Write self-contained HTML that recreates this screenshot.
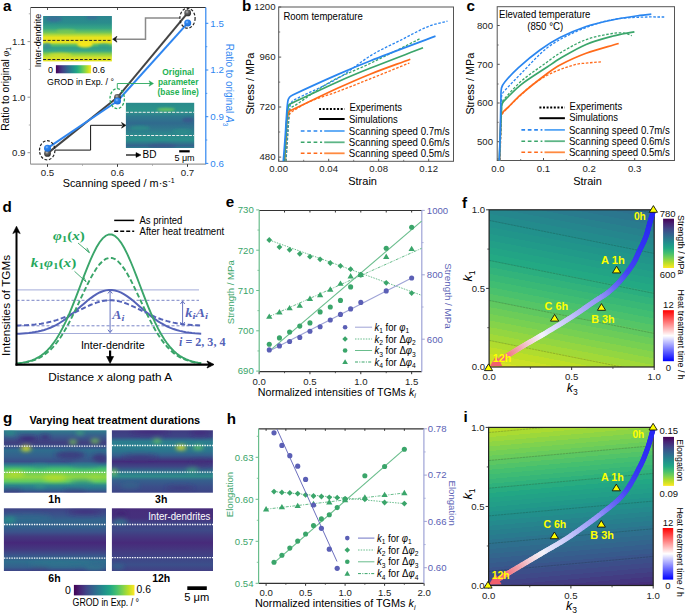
<!DOCTYPE html>
<html><head><meta charset="utf-8"><style>
html,body{margin:0;padding:0;background:#fff;width:685px;height:613px;overflow:hidden}
svg{display:block}
text{font-family:"Liberation Sans",sans-serif}
.serif{font-family:"Liberation Serif",serif}
</style></head><body>
<svg width="685" height="613" viewBox="0 0 685 613">
<defs><linearGradient id="ga1" x1="0" y1="0" x2="0" y2="1">
<stop offset="0" stop-color="#2c8590"/><stop offset="0.15" stop-color="#2a8c8c"/>
<stop offset="0.27" stop-color="#35a585"/><stop offset="0.36" stop-color="#6cc45c"/>
<stop offset="0.42" stop-color="#b5da35"/><stop offset="0.47" stop-color="#e8e41e"/>
<stop offset="0.58" stop-color="#e8e31e"/><stop offset="0.64" stop-color="#5cbf66"/>
<stop offset="0.7" stop-color="#34a086"/><stop offset="0.77" stop-color="#3aa884"/>
<stop offset="0.84" stop-color="#8ad048"/><stop offset="0.92" stop-color="#d8e22a"/><stop offset="1" stop-color="#e5e424"/></linearGradient><filter id="blur2" x="-50%" y="-50%" width="200%" height="200%"><feGaussianBlur stdDeviation="2"/></filter><filter id="blur1" x="-50%" y="-50%" width="200%" height="200%"><feGaussianBlur stdDeviation="1.2"/></filter><clipPath id="ca1"><rect x="43.1" y="16" width="68.8" height="45.4"/></clipPath><clipPath id="ca2"><rect x="125.9" y="102.8" width="68.3" height="45.2"/></clipPath><linearGradient id="gvir" x1="0" y1="0" x2="1" y2="0"><stop offset="0.0" stop-color="#440154"/><stop offset="0.1" stop-color="#482475"/><stop offset="0.2" stop-color="#414487"/><stop offset="0.3" stop-color="#355f8d"/><stop offset="0.4" stop-color="#2a788e"/><stop offset="0.5" stop-color="#21918c"/><stop offset="0.6" stop-color="#22a884"/><stop offset="0.7" stop-color="#44bf70"/><stop offset="0.8" stop-color="#7ad151"/><stop offset="0.9" stop-color="#bddf26"/><stop offset="1.0" stop-color="#fde725"/></linearGradient><linearGradient id="gvirv" x1="0" y1="1" x2="0" y2="0"><stop offset="0.0" stop-color="#440154"/><stop offset="0.1" stop-color="#482475"/><stop offset="0.2" stop-color="#414487"/><stop offset="0.3" stop-color="#355f8d"/><stop offset="0.4" stop-color="#2a788e"/><stop offset="0.5" stop-color="#21918c"/><stop offset="0.6" stop-color="#22a884"/><stop offset="0.7" stop-color="#44bf70"/><stop offset="0.8" stop-color="#7ad151"/><stop offset="0.9" stop-color="#bddf26"/><stop offset="1.0" stop-color="#fde725"/></linearGradient><linearGradient id="ga2" x1="0" y1="0" x2="0" y2="1">
<stop offset="0" stop-color="#2a8a8c"/><stop offset="0.18" stop-color="#2c948a"/>
<stop offset="0.3" stop-color="#2e7a8e"/><stop offset="0.45" stop-color="#306a8e"/><stop offset="0.6" stop-color="#2f7a8d"/>
<stop offset="0.72" stop-color="#2c8a8c"/><stop offset="0.82" stop-color="#2a908b"/><stop offset="0.95" stop-color="#35628d"/><stop offset="1" stop-color="#2e7e8e"/></linearGradient><radialGradient id="bb" cx="0.4" cy="0.35" r="0.6"><stop offset="0" stop-color="#9cc8ff"/><stop offset="0.35" stop-color="#2f86f0"/><stop offset="1" stop-color="#1d6fd8"/></radialGradient><radialGradient id="bg" cx="0.4" cy="0.35" r="0.6"><stop offset="0" stop-color="#bbb"/><stop offset="0.4" stop-color="#666"/><stop offset="1" stop-color="#333"/></radialGradient><linearGradient id="gvirv2" x1="0" y1="1" x2="0" y2="0"><stop offset="0.0" stop-color="#fde725"/><stop offset="0.1" stop-color="#bddf26"/><stop offset="0.2" stop-color="#7ad151"/><stop offset="0.3" stop-color="#44bf70"/><stop offset="0.4" stop-color="#22a884"/><stop offset="0.5" stop-color="#21918c"/><stop offset="0.6" stop-color="#2a788e"/><stop offset="0.7" stop-color="#355f8d"/><stop offset="0.8" stop-color="#414487"/><stop offset="0.9" stop-color="#482475"/><stop offset="1.0" stop-color="#440154"/></linearGradient><linearGradient id="gbwr" x1="0" y1="1" x2="0" y2="0"><stop offset="0" stop-color="#0000ff"/><stop offset="0.5" stop-color="#ffffff"/><stop offset="1" stop-color="#ff0000"/></linearGradient><linearGradient id="hf" gradientUnits="userSpaceOnUse" x1="523.77" y1="184.96" x2="489.10" y2="367.00"><stop offset="0.0000" stop-color="#306b8d"/><stop offset="0.0108" stop-color="#306b8d"/><stop offset="0.0108" stop-color="#2d718e"/><stop offset="0.0462" stop-color="#2d718e"/><stop offset="0.0462" stop-color="#2b768e"/><stop offset="0.0815" stop-color="#2b768e"/><stop offset="0.0815" stop-color="#297b8e"/><stop offset="0.1168" stop-color="#297b8e"/><stop offset="0.1168" stop-color="#27818d"/><stop offset="0.1522" stop-color="#27818d"/><stop offset="0.1522" stop-color="#25868d"/><stop offset="0.1875" stop-color="#25868d"/><stop offset="0.1875" stop-color="#238b8c"/><stop offset="0.2229" stop-color="#238b8c"/><stop offset="0.2229" stop-color="#21918c"/><stop offset="0.2582" stop-color="#21918c"/><stop offset="0.2582" stop-color="#21958a"/><stop offset="0.2935" stop-color="#21958a"/><stop offset="0.2935" stop-color="#219a89"/><stop offset="0.3289" stop-color="#219a89"/><stop offset="0.3289" stop-color="#229f87"/><stop offset="0.3642" stop-color="#229f87"/><stop offset="0.3642" stop-color="#22a485"/><stop offset="0.3996" stop-color="#22a485"/><stop offset="0.3996" stop-color="#23a983"/><stop offset="0.4349" stop-color="#23a983"/><stop offset="0.4349" stop-color="#2bae7f"/><stop offset="0.4702" stop-color="#2bae7f"/><stop offset="0.4702" stop-color="#32b37b"/><stop offset="0.5056" stop-color="#32b37b"/><stop offset="0.5056" stop-color="#39b876"/><stop offset="0.5409" stop-color="#39b876"/><stop offset="0.5409" stop-color="#40bd72"/><stop offset="0.5763" stop-color="#40bd72"/><stop offset="0.5763" stop-color="#4ac16d"/><stop offset="0.6116" stop-color="#4ac16d"/><stop offset="0.6116" stop-color="#55c566"/><stop offset="0.6469" stop-color="#55c566"/><stop offset="0.6469" stop-color="#60c860"/><stop offset="0.6823" stop-color="#60c860"/><stop offset="0.6823" stop-color="#6ccc59"/><stop offset="0.7176" stop-color="#6ccc59"/><stop offset="0.7176" stop-color="#77d052"/><stop offset="0.7530" stop-color="#77d052"/><stop offset="0.7530" stop-color="#85d34a"/><stop offset="0.7883" stop-color="#85d34a"/><stop offset="0.7883" stop-color="#93d641"/><stop offset="0.8236" stop-color="#93d641"/><stop offset="0.8236" stop-color="#a1d938"/><stop offset="0.8590" stop-color="#a1d938"/><stop offset="0.8590" stop-color="#b0dc2f"/><stop offset="0.8943" stop-color="#b0dc2f"/><stop offset="0.8943" stop-color="#bedf26"/><stop offset="0.9297" stop-color="#bedf26"/><stop offset="0.9297" stop-color="#cbe126"/><stop offset="0.9650" stop-color="#cbe126"/><stop offset="0.9650" stop-color="#d9e226"/><stop offset="1.0000" stop-color="#d9e226"/></linearGradient><clipPath id="chf"><rect x="489.1" y="209.8" width="165.10000000000002" height="157.2"/></clipPath><linearGradient id="hi" gradientUnits="userSpaceOnUse" x1="489.88" y1="599.98" x2="474.69" y2="428.63"><stop offset="0.0000" stop-color="#462e7b"/><stop offset="0.0247" stop-color="#462e7b"/><stop offset="0.0247" stop-color="#44357f"/><stop offset="0.0517" stop-color="#44357f"/><stop offset="0.0517" stop-color="#433c82"/><stop offset="0.0787" stop-color="#433c82"/><stop offset="0.0787" stop-color="#414386"/><stop offset="0.1057" stop-color="#414386"/><stop offset="0.1057" stop-color="#3f4988"/><stop offset="0.1328" stop-color="#3f4988"/><stop offset="0.1328" stop-color="#3c4e89"/><stop offset="0.1598" stop-color="#3c4e89"/><stop offset="0.1598" stop-color="#3a548b"/><stop offset="0.1868" stop-color="#3a548b"/><stop offset="0.1868" stop-color="#375a8c"/><stop offset="0.2138" stop-color="#375a8c"/><stop offset="0.2138" stop-color="#355f8d"/><stop offset="0.2409" stop-color="#355f8d"/><stop offset="0.2409" stop-color="#33658d"/><stop offset="0.2679" stop-color="#33658d"/><stop offset="0.2679" stop-color="#306a8d"/><stop offset="0.2949" stop-color="#306a8d"/><stop offset="0.2949" stop-color="#2e6f8e"/><stop offset="0.3219" stop-color="#2e6f8e"/><stop offset="0.3219" stop-color="#2c748e"/><stop offset="0.3489" stop-color="#2c748e"/><stop offset="0.3489" stop-color="#297a8e"/><stop offset="0.3760" stop-color="#297a8e"/><stop offset="0.3760" stop-color="#277f8d"/><stop offset="0.4030" stop-color="#277f8d"/><stop offset="0.4030" stop-color="#26848d"/><stop offset="0.4300" stop-color="#26848d"/><stop offset="0.4300" stop-color="#248a8d"/><stop offset="0.4570" stop-color="#248a8d"/><stop offset="0.4570" stop-color="#228f8c"/><stop offset="0.4841" stop-color="#228f8c"/><stop offset="0.4841" stop-color="#21948b"/><stop offset="0.5111" stop-color="#21948b"/><stop offset="0.5111" stop-color="#219989"/><stop offset="0.5381" stop-color="#219989"/><stop offset="0.5381" stop-color="#229e88"/><stop offset="0.5651" stop-color="#229e88"/><stop offset="0.5651" stop-color="#22a286"/><stop offset="0.5921" stop-color="#22a286"/><stop offset="0.5921" stop-color="#22a784"/><stop offset="0.6192" stop-color="#22a784"/><stop offset="0.6192" stop-color="#28ac80"/><stop offset="0.6462" stop-color="#28ac80"/><stop offset="0.6462" stop-color="#2fb17c"/><stop offset="0.6732" stop-color="#2fb17c"/><stop offset="0.6732" stop-color="#37b678"/><stop offset="0.7002" stop-color="#37b678"/><stop offset="0.7002" stop-color="#3ebb74"/><stop offset="0.7273" stop-color="#3ebb74"/><stop offset="0.7273" stop-color="#45bf6f"/><stop offset="0.7543" stop-color="#45bf6f"/><stop offset="0.7543" stop-color="#51c369"/><stop offset="0.7813" stop-color="#51c369"/><stop offset="0.7813" stop-color="#5cc762"/><stop offset="0.8083" stop-color="#5cc762"/><stop offset="0.8083" stop-color="#68cb5c"/><stop offset="0.8354" stop-color="#68cb5c"/><stop offset="0.8354" stop-color="#73cf55"/><stop offset="0.8624" stop-color="#73cf55"/><stop offset="0.8624" stop-color="#7fd24e"/><stop offset="0.8894" stop-color="#7fd24e"/><stop offset="0.8894" stop-color="#8ed544"/><stop offset="0.9164" stop-color="#8ed544"/><stop offset="0.9164" stop-color="#9cd83b"/><stop offset="0.9434" stop-color="#9cd83b"/><stop offset="0.9434" stop-color="#aadb32"/><stop offset="0.9705" stop-color="#aadb32"/><stop offset="0.9705" stop-color="#b8de29"/><stop offset="0.9975" stop-color="#b8de29"/><stop offset="0.9975" stop-color="#c6e026"/><stop offset="1.0000" stop-color="#c6e026"/></linearGradient><clipPath id="chi"><rect x="488.6" y="427.4" width="164.60000000000002" height="158.10000000000002"/></clipPath><linearGradient id="g1" x1="0" y1="0" x2="0" y2="1"><stop offset="0" stop-color="#2e7a8c"/><stop offset="0.1" stop-color="#3a5a8c"/><stop offset="0.2" stop-color="#40407f"/><stop offset="0.26" stop-color="#3b4f8a"/><stop offset="0.32" stop-color="#2f6d8e"/><stop offset="0.42" stop-color="#35608d"/><stop offset="0.5" stop-color="#3a4f8a"/><stop offset="0.55" stop-color="#2f7b8d"/><stop offset="0.62" stop-color="#44bf70"/><stop offset="0.7" stop-color="#7ad151"/><stop offset="0.75" stop-color="#8fd544"/><stop offset="0.82" stop-color="#5ec962"/><stop offset="0.88" stop-color="#2c8a8a"/><stop offset="0.94" stop-color="#2e6e8e"/><stop offset="1" stop-color="#3b4a89"/></linearGradient><clipPath id="cg1"><rect x="3.9" y="430.3" width="102.6" height="62.4"/></clipPath><linearGradient id="g3" x1="0" y1="0" x2="0" y2="1"><stop offset="0" stop-color="#3f3a80"/><stop offset="0.1" stop-color="#3e4586"/><stop offset="0.18" stop-color="#2b7c8e"/><stop offset="0.26" stop-color="#2a7f8e"/><stop offset="0.34" stop-color="#2c738e"/><stop offset="0.4" stop-color="#35608d"/><stop offset="0.5" stop-color="#432d7b"/><stop offset="0.58" stop-color="#3f4585"/><stop offset="0.68" stop-color="#2c7a8d"/><stop offset="0.74" stop-color="#2f8a8a"/><stop offset="0.8" stop-color="#35608d"/><stop offset="0.9" stop-color="#3b4f8a"/><stop offset="1" stop-color="#3d4486"/></linearGradient><clipPath id="cg3"><rect x="111.9" y="430.3" width="101" height="62.4"/></clipPath><linearGradient id="g6" x1="0" y1="0" x2="0" y2="1"><stop offset="0" stop-color="#3e4486"/><stop offset="0.1" stop-color="#3b528b"/><stop offset="0.2" stop-color="#32658d"/><stop offset="0.3" stop-color="#34618d"/><stop offset="0.38" stop-color="#3b528b"/><stop offset="0.45" stop-color="#433a80"/><stop offset="0.55" stop-color="#46287a"/><stop offset="0.66" stop-color="#433a80"/><stop offset="0.74" stop-color="#3b528b"/><stop offset="0.85" stop-color="#2f6e8e"/><stop offset="0.94" stop-color="#35608d"/><stop offset="1" stop-color="#3e4486"/></linearGradient><clipPath id="cg6"><rect x="3.9" y="508.3" width="102.1" height="62.7"/></clipPath><linearGradient id="g12" x1="0" y1="0" x2="0" y2="1"><stop offset="0" stop-color="#472d7b"/><stop offset="0.15" stop-color="#45307c"/><stop offset="0.24" stop-color="#3f4486"/><stop offset="0.35" stop-color="#3e4a88"/><stop offset="0.45" stop-color="#443880"/><stop offset="0.55" stop-color="#472a7a"/><stop offset="0.68" stop-color="#433a80"/><stop offset="0.78" stop-color="#3f4486"/><stop offset="0.9" stop-color="#3b4f8a"/><stop offset="1" stop-color="#433f84"/></linearGradient><clipPath id="cg12"><rect x="111.9" y="508.3" width="101.1" height="62.7"/></clipPath></defs>
<text x="3" y="11" font-size="15.2" fill="#000" text-anchor="start" font-weight="bold" >a</text>
<text x="242" y="11.2" font-size="15.2" fill="#000" text-anchor="start" font-weight="bold" >b</text>
<text x="466.5" y="11" font-size="15.2" fill="#000" text-anchor="start" font-weight="bold" >c</text>
<text x="2.5" y="212.2" font-size="15.2" fill="#000" text-anchor="start" font-weight="bold" >d</text>
<text x="225.8" y="207.4" font-size="15.2" fill="#000" text-anchor="start" font-weight="bold" >e</text>
<text x="462" y="207.5" font-size="15.2" fill="#000" text-anchor="start" font-weight="bold" >f</text>
<text x="3" y="423.3" font-size="15.2" fill="#000" text-anchor="start" font-weight="bold" >g</text>
<text x="226.8" y="423.5" font-size="15.2" fill="#000" text-anchor="start" font-weight="bold" >h</text>
<text x="463.5" y="421.7" font-size="15.2" fill="#000" text-anchor="start" font-weight="bold" >i</text>
<rect x="43.1" y="16" width="68.8" height="45.4" fill="url(#ga1)"/>
<g clip-path="url(#ca1)" filter="url(#blur1)"><ellipse cx="54" cy="19" rx="8" ry="3" fill="#3b6a98" opacity="0.8"/><ellipse cx="92" cy="17.5" rx="6" ry="2" fill="#3b6a98" opacity="0.7"/><ellipse cx="85" cy="44" rx="8" ry="3.5" fill="#f5e61e"/><ellipse cx="47" cy="46" rx="4" ry="3" fill="#3a8a9a" opacity="0.8"/><ellipse cx="104" cy="46" rx="6" ry="2.5" fill="#2f9a8a" opacity="0.6"/><ellipse cx="60" cy="55" rx="12" ry="2.2" fill="#e0e326" opacity="0.6"/><ellipse cx="66" cy="31" rx="10" ry="2" fill="#8ad048" opacity="0.5"/></g>
<line x1="43.1" y1="40.4" x2="111.9" y2="40.4" stroke="#222" stroke-width="1" stroke-dasharray="3,1.6"/>
<line x1="43.1" y1="59.5" x2="111.9" y2="59.5" stroke="#222" stroke-width="1" stroke-dasharray="3,1.6"/>
<rect x="55.9" y="65.2" width="35.2" height="8.1" fill="url(#gvir)"/>
<text x="50.5" y="72.5" font-size="9" fill="#000" text-anchor="middle" font-weight="normal" >0</text>
<text x="92.5" y="72.5" font-size="9" fill="#000" text-anchor="start" font-weight="normal" >0.6</text>
<text x="47" y="84.5" font-size="9.5" fill="#000" text-anchor="start" font-weight="normal" textLength="67" lengthAdjust="spacingAndGlyphs" >GROD in Exp. / °</text>
<text x="40.5" y="40.5" font-size="9" fill="#000" text-anchor="middle" font-weight="normal" transform="rotate(-90 40.5 40.5)" dy="0">Inter-dendrite</text>
<rect x="125.9" y="102.8" width="68.3" height="45.2" fill="url(#ga2)"/>
<g clip-path="url(#ca2)" filter="url(#blur1)"><ellipse cx="166" cy="109.5" rx="9" ry="1.8" fill="#7ad151" opacity="0.7"/><ellipse cx="188" cy="120" rx="6" ry="2.5" fill="#3b528b" opacity="0.7"/><ellipse cx="162" cy="146" rx="14" ry="2.5" fill="#3b528b" opacity="0.6"/><ellipse cx="140" cy="128" rx="10" ry="2.5" fill="#2a9a88" opacity="0.5"/><ellipse cx="182" cy="131" rx="10" ry="2.5" fill="#2a9a88" opacity="0.4"/></g>
<line x1="125.9" y1="112.3" x2="194.2" y2="112.3" stroke="#eee" stroke-width="1" stroke-dasharray="3,1.2"/>
<line x1="125.9" y1="135.5" x2="194.2" y2="135.5" stroke="#eee" stroke-width="1" stroke-dasharray="3,1.2"/>
<rect x="179.2" y="150.2" width="10.5" height="2.2" fill="#000"/>
<text x="184.5" y="160.5" font-size="9" fill="#000" text-anchor="middle" font-weight="normal" >5 μm</text>
<line x1="126" y1="155" x2="137" y2="155" stroke="#000" stroke-width="1.2" />
<path d="M136,152.6 L141,155 L136,157.4 Z" stroke="#000" stroke-width="0.5" fill="#000" />
<text x="142.5" y="158.3" font-size="10" fill="#000" text-anchor="start" font-weight="normal" >BD</text>
<line x1="30.5" y1="7.5" x2="205.8" y2="7.5" stroke="#333" stroke-width="1" />
<line x1="30.5" y1="7.5" x2="30.5" y2="164.2" stroke="#999" stroke-width="1" />
<line x1="30.5" y1="164.2" x2="205.8" y2="164.2" stroke="#999" stroke-width="1.2" />
<line x1="205.8" y1="7.5" x2="205.8" y2="164.2" stroke="#2f86f0" stroke-width="1.2" />
<line x1="27.5" y1="152.7" x2="30.5" y2="152.7" stroke="#999" stroke-width="1" />
<text x="25.5" y="156.1" font-size="9.7" fill="#222" text-anchor="end" font-weight="normal" >0.9</text>
<line x1="27.5" y1="97.2" x2="30.5" y2="97.2" stroke="#999" stroke-width="1" />
<text x="25.5" y="100.60000000000001" font-size="9.7" fill="#222" text-anchor="end" font-weight="normal" >1.0</text>
<line x1="27.5" y1="41.6" x2="30.5" y2="41.6" stroke="#999" stroke-width="1" />
<text x="25.5" y="45.0" font-size="9.7" fill="#222" text-anchor="end" font-weight="normal" >1.1</text>
<line x1="28.8" y1="125" x2="30.5" y2="125" stroke="#999" stroke-width="0.8" />
<line x1="28.8" y1="69.4" x2="30.5" y2="69.4" stroke="#999" stroke-width="0.8" />
<line x1="28.8" y1="13.8" x2="30.5" y2="13.8" stroke="#999" stroke-width="0.8" />
<line x1="47.5" y1="164.2" x2="47.5" y2="166.8" stroke="#333" stroke-width="1" />
<line x1="47.5" y1="7.5" x2="47.5" y2="10" stroke="#333" stroke-width="0.8" />
<text x="47.5" y="175.8" font-size="9.7" fill="#222" text-anchor="middle" font-weight="normal" >0.5</text>
<line x1="117.5" y1="164.2" x2="117.5" y2="166.8" stroke="#333" stroke-width="1" />
<line x1="117.5" y1="7.5" x2="117.5" y2="10" stroke="#333" stroke-width="0.8" />
<text x="117.5" y="175.8" font-size="9.7" fill="#222" text-anchor="middle" font-weight="normal" >0.6</text>
<line x1="187.5" y1="164.2" x2="187.5" y2="166.8" stroke="#333" stroke-width="1" />
<line x1="187.5" y1="7.5" x2="187.5" y2="10" stroke="#333" stroke-width="0.8" />
<text x="187.5" y="175.8" font-size="9.7" fill="#222" text-anchor="middle" font-weight="normal" >0.7</text>
<line x1="82.5" y1="164.2" x2="82.5" y2="165.8" stroke="#999" stroke-width="0.8" />
<line x1="152.5" y1="164.2" x2="152.5" y2="165.8" stroke="#999" stroke-width="0.8" />
<line x1="205.8" y1="163.4" x2="208.3" y2="163.4" stroke="#2f86f0" stroke-width="1" />
<text x="210.3" y="166.8" font-size="9.7" fill="#2f86f0" text-anchor="start" font-weight="normal" >0.6</text>
<line x1="205.8" y1="116.7" x2="208.3" y2="116.7" stroke="#2f86f0" stroke-width="1" />
<text x="210.3" y="120.10000000000001" font-size="9.7" fill="#2f86f0" text-anchor="start" font-weight="normal" >0.9</text>
<line x1="205.8" y1="70.0" x2="208.3" y2="70.0" stroke="#2f86f0" stroke-width="1" />
<text x="210.3" y="73.4" font-size="9.7" fill="#2f86f0" text-anchor="start" font-weight="normal" >1.2</text>
<line x1="205.8" y1="23.3" x2="208.3" y2="23.3" stroke="#2f86f0" stroke-width="1" />
<text x="210.3" y="26.7" font-size="9.7" fill="#2f86f0" text-anchor="start" font-weight="normal" >1.5</text>
<line x1="205.8" y1="140" x2="207.3" y2="140" stroke="#2f86f0" stroke-width="0.8" />
<line x1="205.8" y1="93.4" x2="207.3" y2="93.4" stroke="#2f86f0" stroke-width="0.8" />
<line x1="205.8" y1="46.7" x2="207.3" y2="46.7" stroke="#2f86f0" stroke-width="0.8" />
<text x="62.7" y="186.5" font-size="10.5" textLength="105" lengthAdjust="spacingAndGlyphs">Scanning speed / m·s</text>
<text x="168.3" y="182.5" font-size="7">-1</text>
<text transform="translate(8.9 89) rotate(-90)" font-size="10.3" text-anchor="middle">Ratio to original <tspan font-style="italic" class="serif">φ</tspan><tspan dy="2.5" font-size="6.5">1</tspan></text>
<text transform="translate(225.5 85) rotate(90)" font-size="10" text-anchor="middle" fill="#2f86f0">Ratio to original <tspan font-style="italic">A</tspan><tspan dy="2.5" font-size="6.5">3</tspan></text>
<line x1="47.5" y1="153.4" x2="117.5" y2="97.3" stroke="#444" stroke-width="2" />
<line x1="117.5" y1="97.3" x2="187.7" y2="12.9" stroke="#444" stroke-width="2" />
<line x1="47.5" y1="148.2" x2="117.5" y2="101" stroke="#2f86f0" stroke-width="2" />
<line x1="117.5" y1="101" x2="187.7" y2="23.1" stroke="#2f86f0" stroke-width="2" />
<path d="M55,150.1 L90.6,150.1 L90.6,125.3 L122,125.3" stroke="#111" stroke-width="1" fill="none" />
<path d="M126,125.3 L121.5,122.4 L122.8,125.3 L121.5,128.2 Z" stroke="#111" stroke-width="0.5" fill="#111" />
<path d="M180,18 L145.5,18 L145.5,39.2 L115,39.2" stroke="#8a8a8a" stroke-width="1.5" fill="none" />
<path d="M112.6,39.2 L117,36.2 L115.6,39.2 L117,42.2 Z" stroke="#111" stroke-width="0.5" fill="#111" />
<path d="M117.3,88.5 L117.3,83.5 L151,83.5" stroke="#2aa85e" stroke-width="0.9" fill="none" />
<path d="M153.5,83.5 L149,80.8 L150.3,83.5 L149,86.2 Z" stroke="#2aa85e" stroke-width="0.5" fill="#2aa85e" />
<text x="178.2" y="75" font-size="8.4" fill="#1db151" text-anchor="middle" font-weight="bold" >Original</text>
<text x="178.2" y="85" font-size="8.4" fill="#1db151" text-anchor="middle" font-weight="bold" >parameter</text>
<text x="178.2" y="95" font-size="8.4" fill="#1db151" text-anchor="middle" font-weight="bold" >(base line)</text>
<ellipse cx="47.2" cy="150.3" rx="7.7" ry="9.6" fill="none" stroke="#222" stroke-width="1.2" stroke-dasharray="2.8,1.7"/>
<ellipse cx="187.5" cy="18.2" rx="7.6" ry="10" fill="none" stroke="#222" stroke-width="1.2" stroke-dasharray="2.8,1.7"/>
<ellipse cx="117.2" cy="98.6" rx="7.2" ry="10" fill="none" stroke="#2aa85e" stroke-width="1.3" stroke-dasharray="2.8,1.7"/>
<circle cx="47.5" cy="153.4" r="3.4" fill="url(#bg)"/>
<circle cx="117.5" cy="97.3" r="3.4" fill="url(#bg)"/>
<circle cx="187.7" cy="12.9" r="3.4" fill="url(#bg)"/>
<circle cx="47.5" cy="148.2" r="3.5" fill="url(#bb)"/>
<circle cx="117.5" cy="101" r="3.5" fill="url(#bb)"/>
<circle cx="187.7" cy="23.1" r="3.5" fill="url(#bb)"/>
<rect x="278.7" y="7" width="174.8" height="154.3" fill="none" stroke="#555" stroke-width="1"/>
<line x1="278.7" y1="7" x2="281.2" y2="7" stroke="#555" stroke-width="1" />
<text x="275.5" y="10.3" font-size="9.6" fill="#222" text-anchor="end" font-weight="normal" >1200</text>
<line x1="278.7" y1="57.1" x2="281.2" y2="57.1" stroke="#555" stroke-width="1" />
<text x="275.5" y="60.4" font-size="9.6" fill="#222" text-anchor="end" font-weight="normal" >960</text>
<line x1="278.7" y1="107" x2="281.2" y2="107" stroke="#555" stroke-width="1" />
<text x="275.5" y="110.3" font-size="9.6" fill="#222" text-anchor="end" font-weight="normal" >720</text>
<line x1="278.7" y1="157.1" x2="281.2" y2="157.1" stroke="#555" stroke-width="1" />
<text x="275.5" y="160.4" font-size="9.6" fill="#222" text-anchor="end" font-weight="normal" >480</text>
<line x1="278.7" y1="32" x2="280.2" y2="32" stroke="#555" stroke-width="0.8" />
<line x1="278.7" y1="82.1" x2="280.2" y2="82.1" stroke="#555" stroke-width="0.8" />
<line x1="278.7" y1="132" x2="280.2" y2="132" stroke="#555" stroke-width="0.8" />
<line x1="278.7" y1="161.3" x2="278.7" y2="158.8" stroke="#555" stroke-width="1" />
<text x="278.7" y="172.3" font-size="9.6" fill="#222" text-anchor="middle" font-weight="normal" >0.00</text>
<line x1="328.7" y1="161.3" x2="328.7" y2="158.8" stroke="#555" stroke-width="1" />
<text x="328.7" y="172.3" font-size="9.6" fill="#222" text-anchor="middle" font-weight="normal" >0.04</text>
<line x1="378.7" y1="161.3" x2="378.7" y2="158.8" stroke="#555" stroke-width="1" />
<text x="378.7" y="172.3" font-size="9.6" fill="#222" text-anchor="middle" font-weight="normal" >0.08</text>
<line x1="428.7" y1="161.3" x2="428.7" y2="158.8" stroke="#555" stroke-width="1" />
<text x="428.7" y="172.3" font-size="9.6" fill="#222" text-anchor="middle" font-weight="normal" >0.12</text>
<line x1="303.7" y1="161.3" x2="303.7" y2="159.8" stroke="#555" stroke-width="0.8" />
<line x1="353.7" y1="161.3" x2="353.7" y2="159.8" stroke="#555" stroke-width="0.8" />
<line x1="403.7" y1="161.3" x2="403.7" y2="159.8" stroke="#555" stroke-width="0.8" />
<text x="362.6" y="185.3" font-size="11" fill="#000" text-anchor="middle" font-weight="normal" >Strain</text>
<text transform="translate(254.4 83.7) rotate(-90)" font-size="10.8" text-anchor="middle">Stress / MPa</text>
<text x="283.4" y="19.5" font-size="10.2" fill="#000" text-anchor="start" font-weight="normal" textLength="79.4" lengthAdjust="spacingAndGlyphs" >Room temperature</text>
<path d="M286.00,161.30 C286.50,152.53 286.97,143.76 287.50,135.00 C287.80,130.00 287.92,124.96 288.50,120.00 C288.76,117.80 289.05,115.39 290.00,113.50 C290.55,112.39 291.89,111.67 293.00,111.00 C298.65,107.60 304.26,103.92 310.30,101.30 C319.26,97.42 328.84,94.97 338.00,91.50 C352.64,85.94 367.15,80.01 381.70,74.20 C390.95,70.51 400.17,66.73 409.40,63.00" stroke="#ff6a1a" stroke-width="1.3" fill="none" stroke-dasharray="2.6,1.6"/>
<path d="M286.00,161.30 C286.60,152.53 287.19,143.77 287.80,135.00 C288.19,129.33 288.48,123.65 289.00,118.00 C289.28,115.02 289.44,111.90 290.20,109.10 C290.44,108.24 291.28,107.54 292.00,107.00 C292.88,106.34 294.06,106.11 295.00,105.50 C307.06,97.61 318.45,88.53 331.00,81.50 C343.45,74.53 357.10,69.71 370.00,63.50 C386.90,55.37 403.60,46.83 420.40,38.50" stroke="#3aa56a" stroke-width="1.3" fill="none" stroke-dasharray="2.6,1.6"/>
<path d="M285.50,161.30 C286.10,152.53 286.73,143.77 287.30,135.00 C287.73,128.34 287.93,121.65 288.50,115.00 C288.73,112.38 289.04,109.73 289.70,107.20 C290.21,105.23 290.88,103.12 292.00,101.50 C292.68,100.52 293.99,99.96 295.10,99.40 C309.32,92.23 324.25,86.27 338.00,78.30 C349.72,71.51 359.93,62.16 371.50,55.10 C380.59,49.56 390.47,45.30 400.00,40.50 C409.53,35.70 418.86,30.30 428.70,26.30 C434.69,23.87 441.23,22.90 447.50,21.20" stroke="#2a86f0" stroke-width="1.3" fill="none" stroke-dasharray="2.6,1.6"/>
<path d="M284.50,161.30 C285.07,152.53 285.71,143.77 286.20,135.00 C286.48,130.00 286.24,124.95 286.80,120.00 C287.10,117.31 287.84,114.56 288.80,112.10 C289.07,111.39 289.86,110.91 290.50,110.50 C291.16,110.08 291.98,109.94 292.70,109.60 C307.82,102.47 322.81,95.06 338.00,88.10 C348.57,83.26 359.21,78.51 370.00,74.20 C383.31,68.88 396.87,64.20 410.30,59.20" stroke="#ff6a1a" stroke-width="1.7" fill="none" />
<path d="M284.30,161.30 C284.87,152.53 285.45,143.77 286.00,135.00 C286.42,128.33 286.67,121.65 287.20,115.00 C287.44,112.05 287.59,108.99 288.30,106.20 C288.52,105.32 289.29,104.55 290.00,104.00 C290.76,103.42 291.81,103.21 292.70,102.80 C307.81,95.78 322.79,88.49 338.00,81.70 C348.56,76.99 359.26,72.58 370.00,68.30 C387.59,61.28 405.33,54.63 423.00,47.80" stroke="#3aa56a" stroke-width="1.7" fill="none" />
<path d="M283.30,161.30 C283.97,152.53 284.68,143.77 285.30,135.00 C285.68,129.67 285.90,124.33 286.30,119.00 C286.74,113.10 286.94,107.11 287.80,101.30 C288.01,99.88 288.64,98.40 289.50,97.30 C290.28,96.30 291.51,95.56 292.70,95.00 C307.68,87.93 322.82,81.08 338.00,74.40 C348.58,69.74 359.24,65.23 370.00,61.00 C391.74,52.46 413.67,44.40 435.50,36.10" stroke="#2a86f0" stroke-width="1.7" fill="none" />
<line x1="319.1" y1="109" x2="344.6" y2="109" stroke="#000" stroke-width="2" stroke-dasharray="2,1.6"/>
<line x1="319.1" y1="119" x2="344.6" y2="119" stroke="#000" stroke-width="2" />
<text x="349.4" y="110.9" font-size="10" fill="#000" text-anchor="start" font-weight="normal" textLength="52.6" lengthAdjust="spacingAndGlyphs" >Experiments</text>
<text x="349.0" y="122.7" font-size="10" fill="#000" text-anchor="start" font-weight="normal" textLength="48.8" lengthAdjust="spacingAndGlyphs" >Simulations</text>
<line x1="300.8" y1="131" x2="322.1" y2="131" stroke="#2a86f0" stroke-width="1.6" stroke-dasharray="3.7,2.7"/>
<line x1="324.20000000000005" y1="131" x2="344.6" y2="131" stroke="#55a5f5" stroke-width="1.8" />
<text x="348.7" y="134.9" font-size="10.2" fill="#000" text-anchor="start" font-weight="normal" textLength="101" lengthAdjust="spacingAndGlyphs" >Scanning speed 0.7m/s</text>
<line x1="300.8" y1="142.3" x2="322.1" y2="142.3" stroke="#3aa56a" stroke-width="1.6" stroke-dasharray="3.7,2.7"/>
<line x1="324.20000000000005" y1="142.3" x2="344.6" y2="142.3" stroke="#5db586" stroke-width="1.8" />
<text x="348.7" y="146.2" font-size="10.2" fill="#000" text-anchor="start" font-weight="normal" textLength="101" lengthAdjust="spacingAndGlyphs" >Scanning speed 0.6m/s</text>
<line x1="300.8" y1="153.3" x2="322.1" y2="153.3" stroke="#ff6a1a" stroke-width="1.6" stroke-dasharray="3.7,2.7"/>
<line x1="324.20000000000005" y1="153.3" x2="344.6" y2="153.3" stroke="#ff8a40" stroke-width="1.8" />
<text x="348.7" y="157.1" font-size="10.2" fill="#000" text-anchor="start" font-weight="normal" textLength="101" lengthAdjust="spacingAndGlyphs" >Scanning speed 0.5m/s</text>
<rect x="497.2" y="6.7" width="177.3" height="153.8" fill="none" stroke="#555" stroke-width="1"/>
<line x1="497.2" y1="25.5" x2="499.7" y2="25.5" stroke="#555" stroke-width="1" />
<text x="493" y="28.8" font-size="9.6" fill="#222" text-anchor="end" font-weight="normal" >800</text>
<line x1="497.2" y1="64.3" x2="499.7" y2="64.3" stroke="#555" stroke-width="1" />
<text x="493" y="67.6" font-size="9.6" fill="#222" text-anchor="end" font-weight="normal" >700</text>
<line x1="497.2" y1="103" x2="499.7" y2="103" stroke="#555" stroke-width="1" />
<text x="493" y="106.3" font-size="9.6" fill="#222" text-anchor="end" font-weight="normal" >600</text>
<line x1="497.2" y1="141.7" x2="499.7" y2="141.7" stroke="#555" stroke-width="1" />
<text x="493" y="145.0" font-size="9.6" fill="#222" text-anchor="end" font-weight="normal" >500</text>
<line x1="497.2" y1="45" x2="498.7" y2="45" stroke="#555" stroke-width="0.8" />
<line x1="497.2" y1="84" x2="498.7" y2="84" stroke="#555" stroke-width="0.8" />
<line x1="497.2" y1="122.3" x2="498.7" y2="122.3" stroke="#555" stroke-width="0.8" />
<line x1="498" y1="160.5" x2="498" y2="158.0" stroke="#555" stroke-width="1" />
<text x="498" y="172.3" font-size="9.6" fill="#222" text-anchor="middle" font-weight="normal" >0.0</text>
<line x1="543.5" y1="160.5" x2="543.5" y2="158.0" stroke="#555" stroke-width="1" />
<text x="543.5" y="172.3" font-size="9.6" fill="#222" text-anchor="middle" font-weight="normal" >0.1</text>
<line x1="589.2" y1="160.5" x2="589.2" y2="158.0" stroke="#555" stroke-width="1" />
<text x="589.2" y="172.3" font-size="9.6" fill="#222" text-anchor="middle" font-weight="normal" >0.2</text>
<line x1="634.7" y1="160.5" x2="634.7" y2="158.0" stroke="#555" stroke-width="1" />
<text x="634.7" y="172.3" font-size="9.6" fill="#222" text-anchor="middle" font-weight="normal" >0.3</text>
<line x1="520.7" y1="160.5" x2="520.7" y2="159.0" stroke="#555" stroke-width="0.8" />
<line x1="566.3" y1="160.5" x2="566.3" y2="159.0" stroke="#555" stroke-width="0.8" />
<line x1="612" y1="160.5" x2="612" y2="159.0" stroke="#555" stroke-width="0.8" />
<line x1="657.3" y1="160.5" x2="657.3" y2="159.0" stroke="#555" stroke-width="0.8" />
<text x="587.5" y="185.3" font-size="11" fill="#000" text-anchor="middle" font-weight="normal" >Strain</text>
<text transform="translate(473.5 83.7) rotate(-90)" font-size="10.8" text-anchor="middle">Stress / MPa</text>
<text x="499" y="18.3" font-size="10.2" fill="#000" text-anchor="start" font-weight="normal" textLength="91.4" lengthAdjust="spacingAndGlyphs" >Elevated temperature</text>
<text x="527.2" y="29.6" font-size="10.2" fill="#000" text-anchor="start" font-weight="normal" textLength="36" lengthAdjust="spacingAndGlyphs" >(850 °C)</text>
<path d="M500.00,160.50 C500.27,152.00 500.53,143.50 500.80,135.00 C500.96,130.00 501.01,124.99 501.30,120.00 C501.41,118.16 501.16,116.06 502.00,114.50 C503.39,111.93 505.88,109.79 508.00,107.60 C512.25,103.22 516.63,98.95 521.10,94.80 C525.36,90.85 529.45,86.59 534.20,83.30 C540.32,79.06 546.93,75.30 553.70,72.20 C560.53,69.07 567.78,66.63 575.00,64.60 C578.58,63.60 582.39,63.49 586.10,63.10 C591.32,62.55 596.57,62.23 601.80,61.80" stroke="#ff6a1a" stroke-width="1.3" fill="none" stroke-dasharray="2.6,1.6"/>
<path d="M499.60,160.50 C500.00,150.33 500.43,140.17 500.80,130.00 C501.07,122.67 501.06,115.31 501.50,108.00 C501.63,105.85 501.71,103.54 502.50,101.60 C503.21,99.87 504.70,98.42 506.00,97.00 C510.90,91.65 515.59,85.99 521.10,81.30 C529.32,74.32 538.45,68.37 547.20,62.00 C551.42,58.93 555.49,55.60 560.00,53.00 C568.46,48.13 577.01,43.00 586.10,39.60 C594.41,36.50 603.43,34.94 612.20,33.50 C616.39,32.81 620.83,32.73 625.00,33.20 C627.36,33.47 629.53,34.87 631.80,35.70" stroke="#3aa56a" stroke-width="1.3" fill="none" stroke-dasharray="2.6,1.6"/>
<path d="M499.80,160.50 C500.13,150.33 500.51,140.17 500.80,130.00 C501.08,120.00 501.16,109.99 501.50,100.00 C501.56,98.13 501.41,96.11 502.00,94.40 C502.51,92.94 503.72,91.68 504.80,90.50 C510.09,84.71 515.61,79.11 521.10,73.50 C528.67,65.77 535.89,57.59 544.00,50.50 C548.85,46.26 554.34,42.59 560.00,39.50 C568.37,34.93 577.17,30.90 586.10,27.50 C594.57,24.27 603.32,21.30 612.20,19.60 C621.29,17.86 630.72,17.65 640.00,17.20 C648.58,16.78 657.20,17.07 665.80,17.00" stroke="#2a86f0" stroke-width="1.3" fill="none" stroke-dasharray="2.6,1.6"/>
<path d="M499.50,160.50 C499.77,152.00 500.03,143.50 500.30,135.00 C500.46,130.00 500.51,124.99 500.80,120.00 C500.91,117.99 500.55,115.66 501.50,114.00 C502.95,111.46 505.82,109.58 508.00,107.40 C512.35,103.05 516.45,98.42 521.10,94.40 C529.52,87.12 538.32,80.21 547.20,73.50 C551.28,70.41 555.47,67.35 560.00,65.00 C568.44,60.62 577.17,56.57 586.10,53.30 C596.73,49.41 607.83,46.77 618.70,43.50" stroke="#ff6a1a" stroke-width="1.7" fill="none" />
<path d="M499.30,160.50 C499.70,150.33 500.06,140.16 500.50,130.00 C500.79,123.33 501.07,116.66 501.50,110.00 C501.64,107.83 501.27,105.36 502.20,103.50 C503.44,101.02 505.95,99.05 508.00,97.00 C512.25,92.75 516.34,88.24 521.10,84.60 C529.41,78.24 538.49,72.85 547.20,67.00 C551.45,64.15 555.57,61.06 560.00,58.50 C568.54,53.56 577.05,48.35 586.10,44.50 C594.45,40.95 603.39,38.62 612.20,36.30 C619.49,34.38 627.00,33.30 634.40,31.80" stroke="#3aa56a" stroke-width="1.7" fill="none" />
<path d="M499.30,160.50 C499.63,150.33 500.03,140.17 500.30,130.00 C500.56,120.00 500.61,110.00 500.90,100.00 C501.01,96.00 500.67,91.82 501.50,88.00 C501.97,85.82 503.35,83.74 504.80,82.00 C509.01,76.94 513.61,72.05 518.50,67.60 C525.34,61.38 532.51,55.41 540.00,50.00 C546.34,45.41 553.03,41.15 560.00,37.60 C568.40,33.32 577.17,29.51 586.10,26.50 C594.57,23.64 603.43,21.81 612.20,20.00 C621.39,18.11 630.71,16.78 640.00,15.40 C643.75,14.84 647.53,14.60 651.30,14.20" stroke="#2a86f0" stroke-width="1.7" fill="none" />
<line x1="539.4" y1="107.4" x2="564.9" y2="107.4" stroke="#000" stroke-width="2" stroke-dasharray="2,1.6"/>
<line x1="539.4" y1="118.2" x2="564.9" y2="118.2" stroke="#000" stroke-width="2" />
<text x="569.6" y="109.6" font-size="10" fill="#000" text-anchor="start" font-weight="normal" textLength="52.6" lengthAdjust="spacingAndGlyphs" >Experiments</text>
<text x="569.1999999999999" y="121.4" font-size="10" fill="#000" text-anchor="start" font-weight="normal" textLength="48.8" lengthAdjust="spacingAndGlyphs" >Simulations</text>
<line x1="521.4" y1="129.9" x2="542.4" y2="129.9" stroke="#2a86f0" stroke-width="1.6" stroke-dasharray="3.7,2.7"/>
<line x1="544.5" y1="129.9" x2="564.9" y2="129.9" stroke="#55a5f5" stroke-width="1.8" />
<text x="568.9" y="134.2" font-size="10.2" fill="#000" text-anchor="start" font-weight="normal" textLength="101" lengthAdjust="spacingAndGlyphs" >Scanning speed 0.7m/s</text>
<line x1="521.4" y1="141.2" x2="542.4" y2="141.2" stroke="#3aa56a" stroke-width="1.6" stroke-dasharray="3.7,2.7"/>
<line x1="544.5" y1="141.2" x2="564.9" y2="141.2" stroke="#5db586" stroke-width="1.8" />
<text x="568.9" y="145.0" font-size="10.2" fill="#000" text-anchor="start" font-weight="normal" textLength="101" lengthAdjust="spacingAndGlyphs" >Scanning speed 0.6m/s</text>
<line x1="521.4" y1="152.3" x2="542.4" y2="152.3" stroke="#ff6a1a" stroke-width="1.6" stroke-dasharray="3.7,2.7"/>
<line x1="544.5" y1="152.3" x2="564.9" y2="152.3" stroke="#ff8a40" stroke-width="1.8" />
<text x="568.9" y="155.9" font-size="10.2" fill="#000" text-anchor="start" font-weight="normal" textLength="101" lengthAdjust="spacingAndGlyphs" >Scanning speed 0.5m/s</text>
<line x1="16.5" y1="289.9" x2="199" y2="289.9" stroke="#a3acd9" stroke-width="1" />
<line x1="16.5" y1="333.5" x2="199" y2="333.5" stroke="#a3acd9" stroke-width="1" />
<line x1="16.5" y1="300.3" x2="199" y2="300.3" stroke="#5563b8" stroke-width="0.8" stroke-dasharray="3,2"/>
<line x1="16.5" y1="325.8" x2="199" y2="325.8" stroke="#5563b8" stroke-width="0.8" stroke-dasharray="3,2"/>
<path d="M16.50,333.80 L19.58,333.66 L22.66,333.48 L25.73,333.24 L28.81,332.94 L31.89,332.56 L34.97,332.09 L38.05,331.50 L41.13,330.79 L44.20,329.94 L47.28,328.92 L50.36,327.73 L53.44,326.36 L56.52,324.79 L59.60,323.01 L62.67,321.04 L65.75,318.88 L68.83,316.54 L71.91,314.05 L74.99,311.45 L78.07,308.77 L81.14,306.06 L84.22,303.38 L87.30,300.78 L90.38,298.33 L93.46,296.10 L96.54,294.13 L99.61,292.49 L102.69,291.22 L105.77,290.36 L108.85,289.94 L111.93,289.97 L115.01,290.45 L118.08,291.36 L121.16,292.67 L124.24,294.35 L127.32,296.36 L130.40,298.62 L133.48,301.09 L136.56,303.70 L139.63,306.39 L142.71,309.10 L145.79,311.78 L148.87,314.37 L151.95,316.84 L155.03,319.16 L158.10,321.30 L161.18,323.24 L164.26,324.99 L167.34,326.54 L170.42,327.89 L173.49,329.06 L176.57,330.05 L179.65,330.89 L182.73,331.58 L185.81,332.15 L188.89,332.61 L191.97,332.98 L195.04,333.28 L198.12,333.51 L201.20,333.68" stroke="#5563b8" stroke-width="2" fill="none" />
<path d="M16.50,325.54 L19.58,325.44 L22.66,325.33 L25.73,325.18 L28.81,324.99 L31.89,324.75 L34.97,324.46 L38.05,324.10 L41.13,323.67 L44.20,323.16 L47.28,322.55 L50.36,321.84 L53.44,321.03 L56.52,320.11 L59.60,319.07 L62.67,317.93 L65.75,316.68 L68.83,315.33 L71.91,313.91 L74.99,312.42 L78.07,310.90 L81.14,309.36 L84.22,307.85 L87.30,306.39 L90.38,305.01 L93.46,303.76 L96.54,302.66 L99.61,301.74 L102.69,301.04 L105.77,300.56 L108.85,300.32 L111.93,300.34 L115.01,300.60 L118.08,301.11 L121.16,301.85 L124.24,302.79 L127.32,303.91 L130.40,305.18 L133.48,306.56 L136.56,308.03 L139.63,309.55 L142.71,311.09 L145.79,312.61 L148.87,314.09 L151.95,315.50 L155.03,316.84 L158.10,318.07 L161.18,319.20 L164.26,320.23 L167.34,321.14 L170.42,321.93 L173.49,322.63 L176.57,323.22 L179.65,323.73 L182.73,324.15 L185.81,324.50 L188.89,324.78 L191.97,325.01 L195.04,325.20 L198.12,325.34 L201.20,325.46" stroke="#5563b8" stroke-width="2" fill="none" stroke-dasharray="5,2.5"/>
<path d="M16.50,363.47 L19.58,363.12 L22.66,362.66 L25.73,362.06 L28.81,361.28 L31.89,360.28 L34.97,359.02 L38.05,357.46 L41.13,355.54 L44.20,353.20 L47.28,350.39 L50.36,347.07 L53.44,343.19 L56.52,338.72 L59.60,333.63 L62.67,327.93 L65.75,321.62 L68.83,314.76 L71.91,307.41 L74.99,299.67 L78.07,291.66 L81.14,283.52 L84.22,275.42 L87.30,267.56 L90.38,260.12 L93.46,253.29 L96.54,247.28 L99.61,242.25 L102.69,238.36 L105.77,235.73 L108.85,234.43 L111.93,234.52 L115.01,235.98 L118.08,238.78 L121.16,242.81 L124.24,247.97 L127.32,254.09 L130.40,261.00 L133.48,268.51 L136.56,276.41 L139.63,284.52 L142.71,292.65 L145.79,300.64 L148.87,308.34 L151.95,315.63 L155.03,322.43 L158.10,328.66 L161.18,334.29 L164.26,339.30 L167.34,343.70 L170.42,347.51 L173.49,350.77 L176.57,353.51 L179.65,355.79 L182.73,357.67 L185.81,359.19 L188.89,360.42 L191.97,361.38 L195.04,362.14 L198.12,362.72 L201.20,363.17" stroke="#3aa56a" stroke-width="1.9" fill="none" />
<path d="M16.50,363.59 L19.58,363.29 L22.66,362.89 L25.73,362.38 L28.81,361.71 L31.89,360.87 L34.97,359.81 L38.05,358.49 L41.13,356.87 L44.20,354.92 L47.28,352.58 L50.36,349.82 L53.44,346.60 L56.52,342.90 L59.60,338.70 L62.67,334.00 L65.75,328.83 L68.83,323.20 L71.91,317.19 L74.99,310.87 L78.07,304.33 L81.14,297.71 L84.22,291.13 L87.30,284.74 L90.38,278.70 L93.46,273.17 L96.54,268.30 L99.61,264.23 L102.69,261.09 L105.77,258.96 L108.85,257.91 L111.93,257.98 L115.01,259.16 L118.08,261.42 L121.16,264.69 L124.24,268.86 L127.32,273.82 L130.40,279.42 L133.48,285.51 L136.56,291.93 L139.63,298.52 L142.71,305.14 L145.79,311.66 L148.87,317.95 L151.95,323.92 L155.03,329.49 L158.10,334.61 L161.18,339.24 L164.26,343.38 L167.34,347.02 L170.42,350.18 L173.49,352.89 L176.57,355.18 L179.65,357.09 L182.73,358.67 L185.81,359.95 L188.89,360.98 L191.97,361.80 L195.04,362.45 L198.12,362.95 L201.20,363.33" stroke="#3aa56a" stroke-width="1.9" fill="none" stroke-dasharray="5,2.5"/>
<line x1="16.5" y1="365.5" x2="16.5" y2="229" stroke="#000" stroke-width="2" />
<path d="M12.8,233.6 L16.5,226.2 L20.2,233.6 L16.5,231.8 Z" stroke="#000" stroke-width="0.6" fill="#000" />
<line x1="15.5" y1="364.6" x2="210" y2="364.6" stroke="#000" stroke-width="2.2" />
<path d="M207,361 L214,364.5 L207,368 L209,364.5 Z" stroke="#000" stroke-width="0.8" fill="#000" />
<line x1="110.1" y1="291" x2="110.1" y2="332.2" stroke="#5563b8" stroke-width="0.9" />
<path d="M107.89999999999999,293.5 L110.1,290.6 L112.3,293.5" stroke="#5563b8" stroke-width="0.9" fill="none" />
<path d="M107.89999999999999,329.7 L110.1,332.59999999999997 L112.3,329.7" stroke="#5563b8" stroke-width="0.9" fill="none" />
<line x1="182.6" y1="301.5" x2="182.6" y2="324.6" stroke="#5563b8" stroke-width="0.9" />
<path d="M180.4,304.0 L182.6,301.1 L184.79999999999998,304.0" stroke="#5563b8" stroke-width="0.9" fill="none" />
<path d="M180.4,322.1 L182.6,325.0 L184.79999999999998,322.1" stroke="#5563b8" stroke-width="0.9" fill="none" />
<line x1="110.1" y1="350.5" x2="110.1" y2="358" stroke="#000" stroke-width="2.2" />
<path d="M106.6,356.5 L110.1,363.5 L113.6,356.5 Z" stroke="#000" stroke-width="0.6" fill="#000" />
<text x="112.3" y="318.5" font-size="12" fill="#5563b8" class="serif" font-style="italic" font-weight="bold" textLength="12" lengthAdjust="spacingAndGlyphs">A<tspan dy="2" font-size="9">i</tspan></text>
<text x="185.3" y="316.5" font-size="12" fill="#5563b8" class="serif" font-style="italic" font-weight="bold" textLength="22.8" lengthAdjust="spacingAndGlyphs">k<tspan dy="2" font-size="9">i</tspan><tspan dy="-2">A</tspan><tspan dy="2" font-size="9">i</tspan></text>
<text x="179" y="346" font-size="12" fill="#5563b8" class="serif" font-weight="bold" textLength="46.5" lengthAdjust="spacingAndGlyphs"><tspan font-style="italic">i</tspan> = 2, 3, 4</text>
<text x="53" y="240" font-size="12.5" fill="#25a85c" class="serif" font-weight="bold" font-style="italic" textLength="31.8" lengthAdjust="spacingAndGlyphs">φ<tspan dy="2" font-size="9" font-style="normal">1</tspan><tspan dy="-2" font-style="normal">(</tspan>x<tspan font-style="normal">)</tspan></text>
<text x="30.8" y="266.5" font-size="12.5" fill="#25a85c" class="serif" font-weight="bold" font-style="italic" textLength="45.5" lengthAdjust="spacingAndGlyphs">k<tspan dy="2" font-size="9" font-style="normal">1</tspan><tspan dy="-2">φ</tspan><tspan dy="2" font-size="9" font-style="normal">1</tspan><tspan dy="-2" font-style="normal">(</tspan>x<tspan font-style="normal">)</tspan></text>
<path d="M78,243 L89.1,252.4" stroke="#3aa56a" stroke-width="0.9" fill="none" />
<path d="M85.2,249.2 L89.5,252.7 L86.9,247.8" stroke="#3aa56a" stroke-width="0.9" fill="none" />
<path d="M74.5,271.3 L85.7,281.5" stroke="#3aa56a" stroke-width="0.9" fill="none" />
<path d="M81.9,278.2 L86.1,281.8 L83.6,276.9" stroke="#3aa56a" stroke-width="0.9" fill="none" />
<text x="80.9" y="348.6" font-size="10.5" fill="#000" text-anchor="start" font-weight="normal" textLength="63.8" lengthAdjust="spacingAndGlyphs" >Inter-dendrite</text>
<text x="48.2" y="380.9" font-size="11.2" textLength="123.8" lengthAdjust="spacingAndGlyphs">Distance <tspan font-style="italic">x</tspan> along path A</text>
<text transform="translate(9.9 305.4) rotate(-90)" font-size="11.5" text-anchor="middle" textLength="101" lengthAdjust="spacingAndGlyphs">Intensities of TGMs</text>
<line x1="114.2" y1="220.4" x2="134.2" y2="220.4" stroke="#000" stroke-width="1.5" />
<line x1="114.2" y1="231.3" x2="134.2" y2="231.3" stroke="#000" stroke-width="1.5" stroke-dasharray="4,2"/>
<text x="139.5" y="224.2" font-size="10.3" fill="#000" text-anchor="start" font-weight="normal" textLength="42.9" lengthAdjust="spacingAndGlyphs" >As printed</text>
<text x="139.5" y="235.1" font-size="10.3" fill="#000" text-anchor="start" font-weight="normal" textLength="84.7" lengthAdjust="spacingAndGlyphs" >After heat treatment</text>
<line x1="259.2" y1="210.5" x2="421.8" y2="210.5" stroke="#333" stroke-width="1.2" />
<line x1="259.2" y1="371.7" x2="421.8" y2="371.7" stroke="#333" stroke-width="1.2" />
<line x1="259.2" y1="210.5" x2="259.2" y2="371.7" stroke="#69bd8c" stroke-width="1.2" />
<line x1="421.8" y1="210.5" x2="421.8" y2="371.7" stroke="#9ea3d6" stroke-width="1.2" />
<line x1="284.52500000000003" y1="210.5" x2="284.52500000000003" y2="212.5" stroke="#333" stroke-width="1" />
<line x1="309.95000000000005" y1="210.5" x2="309.95000000000005" y2="212.5" stroke="#333" stroke-width="1" />
<line x1="335.375" y1="210.5" x2="335.375" y2="212.5" stroke="#333" stroke-width="1" />
<line x1="360.8" y1="210.5" x2="360.8" y2="212.5" stroke="#333" stroke-width="1" />
<line x1="386.225" y1="210.5" x2="386.225" y2="212.5" stroke="#333" stroke-width="1" />
<line x1="411.65000000000003" y1="210.5" x2="411.65000000000003" y2="212.5" stroke="#333" stroke-width="1" />
<line x1="259.1" y1="371.7" x2="259.1" y2="374.2" stroke="#333" stroke-width="1" />
<text x="259.1" y="384.5" font-size="9.6" fill="#222" text-anchor="middle" font-weight="normal" >0.0</text>
<line x1="309.95000000000005" y1="371.7" x2="309.95000000000005" y2="374.2" stroke="#333" stroke-width="1" />
<text x="309.95000000000005" y="384.5" font-size="9.6" fill="#222" text-anchor="middle" font-weight="normal" >0.5</text>
<line x1="360.8" y1="371.7" x2="360.8" y2="374.2" stroke="#333" stroke-width="1" />
<text x="360.8" y="384.5" font-size="9.6" fill="#222" text-anchor="middle" font-weight="normal" >1.0</text>
<line x1="411.65000000000003" y1="371.7" x2="411.65000000000003" y2="374.2" stroke="#333" stroke-width="1" />
<text x="411.65000000000003" y="384.5" font-size="9.6" fill="#222" text-anchor="middle" font-weight="normal" >1.5</text>
<line x1="284.52500000000003" y1="371.7" x2="284.52500000000003" y2="373.2" stroke="#333" stroke-width="0.8" />
<line x1="335.375" y1="371.7" x2="335.375" y2="373.2" stroke="#333" stroke-width="0.8" />
<line x1="386.225" y1="371.7" x2="386.225" y2="373.2" stroke="#333" stroke-width="0.8" />
<line x1="256.2" y1="209.89999999999998" x2="259.2" y2="209.89999999999998" stroke="#69bd8c" stroke-width="1" />
<text x="253.8" y="213.2" font-size="9.6" fill="#3aa56a" text-anchor="end" font-weight="normal" >730</text>
<line x1="256.2" y1="250.2" x2="259.2" y2="250.2" stroke="#69bd8c" stroke-width="1" />
<text x="253.8" y="253.5" font-size="9.6" fill="#3aa56a" text-anchor="end" font-weight="normal" >720</text>
<line x1="256.2" y1="290.5" x2="259.2" y2="290.5" stroke="#69bd8c" stroke-width="1" />
<text x="253.8" y="293.8" font-size="9.6" fill="#3aa56a" text-anchor="end" font-weight="normal" >710</text>
<line x1="256.2" y1="330.8" x2="259.2" y2="330.8" stroke="#69bd8c" stroke-width="1" />
<text x="253.8" y="334.1" font-size="9.6" fill="#3aa56a" text-anchor="end" font-weight="normal" >700</text>
<line x1="256.2" y1="371.1" x2="259.2" y2="371.1" stroke="#69bd8c" stroke-width="1" />
<text x="253.8" y="374.40000000000003" font-size="9.6" fill="#3aa56a" text-anchor="end" font-weight="normal" >690</text>
<line x1="257.4" y1="230.04999999999998" x2="259.2" y2="230.04999999999998" stroke="#69bd8c" stroke-width="0.8" />
<line x1="257.4" y1="270.34999999999997" x2="259.2" y2="270.34999999999997" stroke="#69bd8c" stroke-width="0.8" />
<line x1="257.4" y1="310.65" x2="259.2" y2="310.65" stroke="#69bd8c" stroke-width="0.8" />
<line x1="257.4" y1="350.95" x2="259.2" y2="350.95" stroke="#69bd8c" stroke-width="0.8" />
<line x1="421.8" y1="210.4" x2="424.8" y2="210.4" stroke="#9ea3d6" stroke-width="1" />
<text x="426.8" y="213.70000000000002" font-size="9.6" fill="#5b5fb5" text-anchor="start" font-weight="normal" >1000</text>
<line x1="421.8" y1="274.8" x2="424.8" y2="274.8" stroke="#9ea3d6" stroke-width="1" />
<text x="426.8" y="278.1" font-size="9.6" fill="#5b5fb5" text-anchor="start" font-weight="normal" >800</text>
<line x1="421.8" y1="339.20000000000005" x2="424.8" y2="339.20000000000005" stroke="#9ea3d6" stroke-width="1" />
<text x="426.8" y="342.50000000000006" font-size="9.6" fill="#5b5fb5" text-anchor="start" font-weight="normal" >600</text>
<line x1="421.8" y1="242.60000000000002" x2="423.6" y2="242.60000000000002" stroke="#9ea3d6" stroke-width="0.8" />
<line x1="421.8" y1="307.0" x2="423.6" y2="307.0" stroke="#9ea3d6" stroke-width="0.8" />
<text transform="translate(233.6 292.2) rotate(-90)" font-size="9.6" text-anchor="middle" fill="#3aa56a">Strength / MPa</text>
<text transform="translate(445.3 296) rotate(90)" font-size="9.8" text-anchor="middle" fill="#5b5fb5">Strength / MPa</text>
<text x="257.8" y="395.5" font-size="10.8" textLength="158" lengthAdjust="spacingAndGlyphs">Normalized intensities of TGMs <tspan font-style="italic">k</tspan><tspan dy="2.5" font-size="7" font-style="italic">i</tspan></text>
<line x1="269.27000000000004" y1="351.1" x2="421.6" y2="221.2" stroke="#69bd8c" stroke-width="1.1" />
<line x1="269.27000000000004" y1="316.6" x2="421.6" y2="248.3" stroke="#69bd8c" stroke-width="1" stroke-dasharray="3,1.3,1,1.3"/>
<line x1="269.27000000000004" y1="240" x2="421.6" y2="295.3" stroke="#69bd8c" stroke-width="1" stroke-dasharray="1.5,1.2"/>
<line x1="269.27000000000004" y1="351" x2="411.65000000000003" y2="278" stroke="#9ea3d6" stroke-width="1.1" />
<path d="M269.27000000000004,237.1 L272.17,240 L269.27000000000004,242.9 L266.37000000000006,240 Z" fill="#3aa56a"/>
<path d="M279.44000000000005,244.2 L282.34000000000003,247.1 L279.44000000000005,250.0 L276.5400000000001,247.1 Z" fill="#3aa56a"/>
<path d="M289.61,246.9 L292.51,249.8 L289.61,252.70000000000002 L286.71000000000004,249.8 Z" fill="#3aa56a"/>
<path d="M299.78000000000003,250.9 L302.68,253.8 L299.78000000000003,256.7 L296.88000000000005,253.8 Z" fill="#3aa56a"/>
<path d="M309.95000000000005,253.79999999999998 L312.85,256.7 L309.95000000000005,259.59999999999997 L307.05000000000007,256.7 Z" fill="#3aa56a"/>
<path d="M320.12,256.40000000000003 L323.02,259.3 L320.12,262.2 L317.22,259.3 Z" fill="#3aa56a"/>
<path d="M330.29,260.1 L333.19,263 L330.29,265.9 L327.39000000000004,263 Z" fill="#3aa56a"/>
<path d="M340.46000000000004,263.0 L343.36,265.9 L340.46000000000004,268.79999999999995 L337.56000000000006,265.9 Z" fill="#3aa56a"/>
<path d="M350.63,266.3 L353.53,269.2 L350.63,272.09999999999997 L347.73,269.2 Z" fill="#3aa56a"/>
<path d="M360.8,271.90000000000003 L363.7,274.8 L360.8,277.7 L357.90000000000003,274.8 Z" fill="#3aa56a"/>
<path d="M386.225,279.90000000000003 L389.125,282.8 L386.225,285.7 L383.32500000000005,282.8 Z" fill="#3aa56a"/>
<path d="M411.65000000000003,290.20000000000005 L414.55,293.1 L411.65000000000003,296.0 L408.75000000000006,293.1 Z" fill="#3aa56a"/>
<path d="M269.27000000000004,313.45000000000005 L272.42,318.85 L266.12000000000006,318.85 Z" fill="#3aa56a"/>
<path d="M279.44000000000005,309.05 L282.59000000000003,314.45 L276.2900000000001,314.45 Z" fill="#3aa56a"/>
<path d="M289.61,304.95000000000005 L292.76,310.35 L286.46000000000004,310.35 Z" fill="#3aa56a"/>
<path d="M299.78000000000003,302.45000000000005 L302.93,307.85 L296.63000000000005,307.85 Z" fill="#3aa56a"/>
<path d="M309.95000000000005,295.55 L313.1,300.95 L306.80000000000007,300.95 Z" fill="#3aa56a"/>
<path d="M320.12,291.85 L323.27,297.25 L316.97,297.25 Z" fill="#3aa56a"/>
<path d="M330.29,286.25 L333.44,291.65 L327.14000000000004,291.65 Z" fill="#3aa56a"/>
<path d="M340.46000000000004,280.45000000000005 L343.61,285.85 L337.31000000000006,285.85 Z" fill="#3aa56a"/>
<path d="M350.63,273.05 L353.78,278.45 L347.48,278.45 Z" fill="#3aa56a"/>
<path d="M360.8,271.65000000000003 L363.95,277.05 L357.65000000000003,277.05 Z" fill="#3aa56a"/>
<path d="M386.225,253.54999999999998 L389.375,258.95 L383.07500000000005,258.95 Z" fill="#3aa56a"/>
<path d="M411.65000000000003,245.65 L414.8,251.05 L408.50000000000006,251.05 Z" fill="#3aa56a"/>
<circle cx="269.27000000000004" cy="344.2" r="2.55" fill="#3aa56a"/>
<circle cx="279.44000000000005" cy="337.9" r="2.55" fill="#3aa56a"/>
<circle cx="289.61" cy="332" r="2.55" fill="#3aa56a"/>
<circle cx="299.78000000000003" cy="326.1" r="2.55" fill="#3aa56a"/>
<circle cx="309.95000000000005" cy="322.9" r="2.55" fill="#3aa56a"/>
<circle cx="320.12" cy="311.9" r="2.55" fill="#3aa56a"/>
<circle cx="330.29" cy="307" r="2.55" fill="#3aa56a"/>
<circle cx="340.46000000000004" cy="300.4" r="2.55" fill="#3aa56a"/>
<circle cx="350.63" cy="286.9" r="2.55" fill="#3aa56a"/>
<circle cx="360.8" cy="274.8" r="2.55" fill="#3aa56a"/>
<circle cx="386.225" cy="248.3" r="2.55" fill="#3aa56a"/>
<circle cx="411.65000000000003" cy="227.3" r="2.55" fill="#3aa56a"/>
<circle cx="269.27000000000004" cy="349.9" r="2.55" fill="#5b5fb5"/>
<circle cx="279.44000000000005" cy="345.9" r="2.55" fill="#5b5fb5"/>
<circle cx="289.61" cy="341.5" r="2.55" fill="#5b5fb5"/>
<circle cx="299.78000000000003" cy="337.4" r="2.55" fill="#5b5fb5"/>
<circle cx="309.95000000000005" cy="331.3" r="2.55" fill="#5b5fb5"/>
<circle cx="320.12" cy="326.8" r="2.55" fill="#5b5fb5"/>
<circle cx="330.29" cy="320" r="2.55" fill="#5b5fb5"/>
<circle cx="340.46000000000004" cy="314.4" r="2.55" fill="#5b5fb5"/>
<circle cx="350.63" cy="308.9" r="2.55" fill="#5b5fb5"/>
<circle cx="360.8" cy="302.4" r="2.55" fill="#5b5fb5"/>
<circle cx="386.225" cy="290.9" r="2.55" fill="#5b5fb5"/>
<circle cx="411.65000000000003" cy="278" r="2.55" fill="#5b5fb5"/>
<circle cx="345.1" cy="327.2" r="2.3" fill="#5b5fb5"/>
<line x1="355" y1="327.2" x2="372.1" y2="327.2" stroke="#9ea3d6" stroke-width="1" />
<path d="M345.1,336.2 L347.90000000000003,339 L345.1,341.8 L342.3,339 Z" fill="#3aa56a"/>
<line x1="355" y1="339" x2="372.1" y2="339" stroke="#69bd8c" stroke-width="1" stroke-dasharray="1.5,1.2"/>
<circle cx="345.1" cy="350.5" r="2.3" fill="#3aa56a"/>
<line x1="355" y1="350.5" x2="372.1" y2="350.5" stroke="#69bd8c" stroke-width="1" />
<path d="M345.1,359.165 L347.935,364.025 L342.26500000000004,364.025 Z" fill="#3aa56a"/>
<line x1="355" y1="362" x2="372.1" y2="362" stroke="#3aa56a" stroke-width="1" stroke-dasharray="3,1.3,1,1.3"/>
<text x="374.4" y="330.8" font-size="10" textLength="34.8" lengthAdjust="spacingAndGlyphs"><tspan font-style="italic">k</tspan><tspan dy="2.5" font-size="7">1</tspan><tspan dy="-2.5"> for </tspan><tspan font-style="italic">φ</tspan><tspan dy="2.5" font-size="7">1</tspan></text>
<text x="374.4" y="342.6" font-size="10" textLength="41.4" lengthAdjust="spacingAndGlyphs"><tspan font-style="italic">k</tspan><tspan dy="2.5" font-size="7">2</tspan><tspan dy="-2.5"> for Δ</tspan><tspan font-style="italic">φ</tspan><tspan dy="2.5" font-size="7">2</tspan></text>
<text x="374.4" y="354.1" font-size="10" textLength="41.4" lengthAdjust="spacingAndGlyphs"><tspan font-style="italic">k</tspan><tspan dy="2.5" font-size="7">3</tspan><tspan dy="-2.5"> for Δ</tspan><tspan font-style="italic">φ</tspan><tspan dy="2.5" font-size="7">3</tspan></text>
<text x="374.4" y="365.6" font-size="10" textLength="41.4" lengthAdjust="spacingAndGlyphs"><tspan font-style="italic">k</tspan><tspan dy="2.5" font-size="7">4</tspan><tspan dy="-2.5"> for Δ</tspan><tspan font-style="italic">φ</tspan><tspan dy="2.5" font-size="7">4</tspan></text>
<line x1="258.6" y1="428.8" x2="423.9" y2="428.8" stroke="#333" stroke-width="1.2" />
<line x1="258.6" y1="583.3" x2="423.9" y2="583.3" stroke="#333" stroke-width="1.2" />
<line x1="258.6" y1="428.8" x2="258.6" y2="583.3" stroke="#69bd8c" stroke-width="1.2" />
<line x1="423.9" y1="428.8" x2="423.9" y2="583.3" stroke="#9ea3d6" stroke-width="1.2" />
<line x1="266.1" y1="428.8" x2="266.1" y2="430.8" stroke="#333" stroke-width="1" />
<line x1="285.85" y1="428.8" x2="285.85" y2="430.8" stroke="#333" stroke-width="1" />
<line x1="305.6" y1="428.8" x2="305.6" y2="430.8" stroke="#333" stroke-width="1" />
<line x1="325.35" y1="428.8" x2="325.35" y2="430.8" stroke="#333" stroke-width="1" />
<line x1="345.1" y1="428.8" x2="345.1" y2="430.8" stroke="#333" stroke-width="1" />
<line x1="364.85" y1="428.8" x2="364.85" y2="430.8" stroke="#333" stroke-width="1" />
<line x1="384.6" y1="428.8" x2="384.6" y2="430.8" stroke="#333" stroke-width="1" />
<line x1="404.35" y1="428.8" x2="404.35" y2="430.8" stroke="#333" stroke-width="1" />
<line x1="266.1" y1="583.3" x2="266.1" y2="585.8" stroke="#333" stroke-width="1" />
<text x="266.1" y="596" font-size="9.6" fill="#222" text-anchor="middle" font-weight="normal" >0.0</text>
<line x1="305.6" y1="583.3" x2="305.6" y2="585.8" stroke="#333" stroke-width="1" />
<text x="305.6" y="596" font-size="9.6" fill="#222" text-anchor="middle" font-weight="normal" >0.5</text>
<line x1="345.1" y1="583.3" x2="345.1" y2="585.8" stroke="#333" stroke-width="1" />
<text x="345.1" y="596" font-size="9.6" fill="#222" text-anchor="middle" font-weight="normal" >1.0</text>
<line x1="384.6" y1="583.3" x2="384.6" y2="585.8" stroke="#333" stroke-width="1" />
<text x="384.6" y="596" font-size="9.6" fill="#222" text-anchor="middle" font-weight="normal" >1.5</text>
<line x1="424.1" y1="583.3" x2="424.1" y2="585.8" stroke="#333" stroke-width="1" />
<text x="424.1" y="596" font-size="9.6" fill="#222" text-anchor="middle" font-weight="normal" >2.0</text>
<line x1="285.85" y1="583.3" x2="285.85" y2="584.8" stroke="#333" stroke-width="0.8" />
<line x1="325.35" y1="583.3" x2="325.35" y2="584.8" stroke="#333" stroke-width="0.8" />
<line x1="364.85" y1="583.3" x2="364.85" y2="584.8" stroke="#333" stroke-width="0.8" />
<line x1="404.35" y1="583.3" x2="404.35" y2="584.8" stroke="#333" stroke-width="0.8" />
<line x1="255.60000000000002" y1="457.29999999999995" x2="258.6" y2="457.29999999999995" stroke="#69bd8c" stroke-width="1" />
<text x="253.5" y="460.59999999999997" font-size="9.6" fill="#3aa56a" text-anchor="end" font-weight="normal" >0.63</text>
<line x1="255.60000000000002" y1="499.3" x2="258.6" y2="499.3" stroke="#69bd8c" stroke-width="1" />
<text x="253.5" y="502.6" font-size="9.6" fill="#3aa56a" text-anchor="end" font-weight="normal" >0.60</text>
<line x1="255.60000000000002" y1="541.3000000000001" x2="258.6" y2="541.3000000000001" stroke="#69bd8c" stroke-width="1" />
<text x="253.5" y="544.6" font-size="9.6" fill="#3aa56a" text-anchor="end" font-weight="normal" >0.57</text>
<line x1="255.60000000000002" y1="583.3" x2="258.6" y2="583.3" stroke="#69bd8c" stroke-width="1" />
<text x="253.5" y="586.5999999999999" font-size="9.6" fill="#3aa56a" text-anchor="end" font-weight="normal" >0.54</text>
<line x1="256.8" y1="436.29999999999995" x2="258.6" y2="436.29999999999995" stroke="#69bd8c" stroke-width="0.8" />
<line x1="256.8" y1="478.3" x2="258.6" y2="478.3" stroke="#69bd8c" stroke-width="0.8" />
<line x1="256.8" y1="520.3000000000001" x2="258.6" y2="520.3000000000001" stroke="#69bd8c" stroke-width="0.8" />
<line x1="256.8" y1="562.3" x2="258.6" y2="562.3" stroke="#69bd8c" stroke-width="0.8" />
<line x1="423.9" y1="428.798" x2="426.9" y2="428.798" stroke="#9ea3d6" stroke-width="1" />
<text x="427.8" y="432.098" font-size="9.6" fill="#5b5fb5" text-anchor="start" font-weight="normal" >0.78</text>
<line x1="423.9" y1="475.1" x2="426.9" y2="475.1" stroke="#9ea3d6" stroke-width="1" />
<text x="427.8" y="478.40000000000003" font-size="9.6" fill="#5b5fb5" text-anchor="start" font-weight="normal" >0.72</text>
<line x1="423.9" y1="521.4019999999999" x2="426.9" y2="521.4019999999999" stroke="#9ea3d6" stroke-width="1" />
<text x="427.8" y="524.7019999999999" font-size="9.6" fill="#5b5fb5" text-anchor="start" font-weight="normal" >0.66</text>
<line x1="423.9" y1="567.7040000000001" x2="426.9" y2="567.7040000000001" stroke="#9ea3d6" stroke-width="1" />
<text x="427.8" y="571.004" font-size="9.6" fill="#5b5fb5" text-anchor="start" font-weight="normal" >0.60</text>
<line x1="423.9" y1="451.949" x2="425.7" y2="451.949" stroke="#9ea3d6" stroke-width="0.8" />
<line x1="423.9" y1="498.25100000000003" x2="425.7" y2="498.25100000000003" stroke="#9ea3d6" stroke-width="0.8" />
<line x1="423.9" y1="544.553" x2="425.7" y2="544.553" stroke="#9ea3d6" stroke-width="0.8" />
<text transform="translate(232.5 494.5) rotate(-90)" font-size="9.6" text-anchor="middle" fill="#3aa56a">Elongation</text>
<text transform="translate(448.6 503.2) rotate(90)" font-size="9.6" text-anchor="middle" fill="#5b5fb5">Elongation</text>
<text x="255" y="607.3" font-size="10.9" textLength="160.5" lengthAdjust="spacingAndGlyphs">Normalized intensities of TGMs <tspan font-style="italic">k</tspan><tspan dy="2.5" font-size="7" font-style="italic">i</tspan></text>
<line x1="274.0" y1="562.8" x2="404.35" y2="449.2" stroke="#69bd8c" stroke-width="1.1" />
<line x1="266.1" y1="509.2" x2="404.35" y2="493" stroke="#69bd8c" stroke-width="1" stroke-dasharray="3,1.3,1,1.3"/>
<line x1="274.0" y1="491.6" x2="404.35" y2="503.6" stroke="#69bd8c" stroke-width="1" stroke-dasharray="1.5,1.2"/>
<path d="M274.0,488.70000000000005 L276.9,491.6 L274.0,494.5 L271.1,491.6 Z" fill="#3aa56a"/>
<path d="M281.90000000000003,489.5 L284.8,492.4 L281.90000000000003,495.29999999999995 L279.00000000000006,492.4 Z" fill="#3aa56a"/>
<path d="M289.8,490.0 L292.7,492.9 L289.8,495.79999999999995 L286.90000000000003,492.9 Z" fill="#3aa56a"/>
<path d="M297.70000000000005,490.70000000000005 L300.6,493.6 L297.70000000000005,496.5 L294.80000000000007,493.6 Z" fill="#3aa56a"/>
<path d="M305.6,492.0 L308.5,494.9 L305.6,497.79999999999995 L302.70000000000005,494.9 Z" fill="#3aa56a"/>
<path d="M313.5,493.1 L316.4,496 L313.5,498.9 L310.6,496 Z" fill="#3aa56a"/>
<path d="M321.40000000000003,493.6 L324.3,496.5 L321.40000000000003,499.4 L318.50000000000006,496.5 Z" fill="#3aa56a"/>
<path d="M329.3,494.40000000000003 L332.2,497.3 L329.3,500.2 L326.40000000000003,497.3 Z" fill="#3aa56a"/>
<path d="M337.20000000000005,494.8 L340.1,497.7 L337.20000000000005,500.59999999999997 L334.30000000000007,497.7 Z" fill="#3aa56a"/>
<path d="M345.1,496.1 L348.0,499 L345.1,501.9 L342.20000000000005,499 Z" fill="#3aa56a"/>
<path d="M364.85,496.40000000000003 L367.75,499.3 L364.85,502.2 L361.95000000000005,499.3 Z" fill="#3aa56a"/>
<path d="M384.6,499.6 L387.5,502.5 L384.6,505.4 L381.70000000000005,502.5 Z" fill="#3aa56a"/>
<path d="M404.35,500.70000000000005 L407.25,503.6 L404.35,506.5 L401.45000000000005,503.6 Z" fill="#3aa56a"/>
<path d="M266.1,506.05 L269.25,511.45 L262.95000000000005,511.45 Z" fill="#3aa56a"/>
<path d="M281.90000000000003,503.95000000000005 L285.05,509.35 L278.75000000000006,509.35 Z" fill="#3aa56a"/>
<path d="M297.70000000000005,502.65000000000003 L300.85,508.05 L294.55000000000007,508.05 Z" fill="#3aa56a"/>
<path d="M313.5,500.85 L316.65,506.25 L310.35,506.25 Z" fill="#3aa56a"/>
<path d="M329.3,499.05 L332.45,504.45 L326.15000000000003,504.45 Z" fill="#3aa56a"/>
<path d="M345.1,496.85 L348.25,502.25 L341.95000000000005,502.25 Z" fill="#3aa56a"/>
<path d="M364.85,494.35 L368.0,499.75 L361.70000000000005,499.75 Z" fill="#3aa56a"/>
<path d="M384.6,491.65000000000003 L387.75,497.05 L381.45000000000005,497.05 Z" fill="#3aa56a"/>
<path d="M404.35,489.85 L407.5,495.25 L401.20000000000005,495.25 Z" fill="#3aa56a"/>
<circle cx="274.0" cy="562.3" r="2.55" fill="#3aa56a"/>
<circle cx="281.90000000000003" cy="555.3" r="2.55" fill="#3aa56a"/>
<circle cx="289.8" cy="548.1" r="2.55" fill="#3aa56a"/>
<circle cx="297.70000000000005" cy="541.1" r="2.55" fill="#3aa56a"/>
<circle cx="305.6" cy="534" r="2.55" fill="#3aa56a"/>
<circle cx="313.5" cy="525.6" r="2.55" fill="#3aa56a"/>
<circle cx="321.40000000000003" cy="518.9" r="2.55" fill="#3aa56a"/>
<circle cx="329.3" cy="514.8" r="2.55" fill="#3aa56a"/>
<circle cx="337.20000000000005" cy="507.6" r="2.55" fill="#3aa56a"/>
<circle cx="345.1" cy="499" r="2.55" fill="#3aa56a"/>
<circle cx="364.85" cy="475.7" r="2.55" fill="#3aa56a"/>
<circle cx="384.6" cy="466.5" r="2.55" fill="#3aa56a"/>
<circle cx="404.35" cy="449.2" r="2.55" fill="#3aa56a"/>
<line x1="277" y1="429.2" x2="337" y2="561.5" stroke="#5b5fb5" stroke-width="0.9" />
<circle cx="274.0" cy="432.8" r="2.6" fill="#5b5fb5"/>
<circle cx="281.90000000000003" cy="445.4" r="2.6" fill="#5b5fb5"/>
<circle cx="289.8" cy="455.7" r="2.6" fill="#5b5fb5"/>
<circle cx="297.70000000000005" cy="466.2" r="2.6" fill="#5b5fb5"/>
<circle cx="305.6" cy="479.4" r="2.6" fill="#5b5fb5"/>
<circle cx="313.5" cy="505" r="2.6" fill="#5b5fb5"/>
<circle cx="321.40000000000003" cy="528.3" r="2.6" fill="#5b5fb5"/>
<circle cx="329.3" cy="549.2" r="2.6" fill="#5b5fb5"/>
<circle cx="337.20000000000005" cy="568.3" r="2.6" fill="#5b5fb5"/>
<circle cx="347.3" cy="538.1" r="2.3" fill="#5b5fb5"/>
<line x1="358" y1="538.1" x2="374.4" y2="538.1" stroke="#7074c4" stroke-width="1" />
<path d="M347.3,547.2 L350.1,550 L347.3,552.8 L344.5,550 Z" fill="#3aa56a"/>
<line x1="358" y1="550" x2="374.4" y2="550" stroke="#69bd8c" stroke-width="1" stroke-dasharray="1.5,1.2"/>
<circle cx="347.3" cy="561.8" r="2.3" fill="#3aa56a"/>
<line x1="358" y1="561.8" x2="374.4" y2="561.8" stroke="#69bd8c" stroke-width="1" />
<path d="M347.3,570.765 L350.135,575.625 L344.46500000000003,575.625 Z" fill="#3aa56a"/>
<line x1="358" y1="573.6" x2="374.4" y2="573.6" stroke="#3aa56a" stroke-width="1" stroke-dasharray="3,1.3,1,1.3"/>
<text x="377" y="541.7" font-size="10" textLength="34.8" lengthAdjust="spacingAndGlyphs"><tspan font-style="italic">k</tspan><tspan dy="2.5" font-size="7">1</tspan><tspan dy="-2.5"> for </tspan><tspan font-style="italic">φ</tspan><tspan dy="2.5" font-size="7">1</tspan></text>
<text x="377" y="553.6" font-size="10" textLength="41.4" lengthAdjust="spacingAndGlyphs"><tspan font-style="italic">k</tspan><tspan dy="2.5" font-size="7">2</tspan><tspan dy="-2.5"> for Δ</tspan><tspan font-style="italic">φ</tspan><tspan dy="2.5" font-size="7">2</tspan></text>
<text x="377" y="565.4" font-size="10" textLength="41.4" lengthAdjust="spacingAndGlyphs"><tspan font-style="italic">k</tspan><tspan dy="2.5" font-size="7">3</tspan><tspan dy="-2.5"> for Δ</tspan><tspan font-style="italic">φ</tspan><tspan dy="2.5" font-size="7">3</tspan></text>
<text x="377" y="577.2" font-size="10" textLength="41.4" lengthAdjust="spacingAndGlyphs"><tspan font-style="italic">k</tspan><tspan dy="2.5" font-size="7">4</tspan><tspan dy="-2.5"> for Δ</tspan><tspan font-style="italic">φ</tspan><tspan dy="2.5" font-size="7">4</tspan></text>
<rect x="489.1" y="209.8" width="165.10000000000002" height="157.2" fill="url(#hf)"/>
<g clip-path="url(#chf)"><line x1="489.1" y1="180.4" x2="654.2" y2="213.42000000000002" stroke="#1a1a1a" stroke-opacity="0.35" stroke-width="0.6" stroke-dasharray="2.5,0.6"/><line x1="489.1" y1="220.4" x2="654.2" y2="253.42000000000002" stroke="#1a1a1a" stroke-opacity="0.35" stroke-width="0.6" stroke-dasharray="2.5,0.6"/><line x1="489.1" y1="260.4" x2="654.2" y2="293.41999999999996" stroke="#1a1a1a" stroke-opacity="0.35" stroke-width="0.6" stroke-dasharray="2.5,0.6"/><line x1="489.1" y1="300.4" x2="654.2" y2="333.41999999999996" stroke="#1a1a1a" stroke-opacity="0.35" stroke-width="0.6" stroke-dasharray="2.5,0.6"/><line x1="489.1" y1="340.4" x2="654.2" y2="373.41999999999996" stroke="#1a1a1a" stroke-opacity="0.35" stroke-width="0.6" stroke-dasharray="2.5,0.6"/></g>
<rect x="489.1" y="209.8" width="165.10000000000002" height="157.2" fill="none" stroke="#222" stroke-width="1.2"/>
<line x1="486.1" y1="367.0" x2="489.1" y2="367.0" stroke="#333" stroke-width="1" />
<line x1="489.1" y1="367.0" x2="489.1" y2="370.0" stroke="#333" stroke-width="1" />
<line x1="487.3" y1="327.7" x2="489.1" y2="327.7" stroke="#333" stroke-width="0.8" />
<line x1="530.375" y1="367.0" x2="530.375" y2="368.8" stroke="#333" stroke-width="0.8" />
<line x1="486.1" y1="288.4" x2="489.1" y2="288.4" stroke="#333" stroke-width="1" />
<line x1="571.6500000000001" y1="367.0" x2="571.6500000000001" y2="370.0" stroke="#333" stroke-width="1" />
<line x1="487.3" y1="249.10000000000002" x2="489.1" y2="249.10000000000002" stroke="#333" stroke-width="0.8" />
<line x1="612.9250000000001" y1="367.0" x2="612.9250000000001" y2="368.8" stroke="#333" stroke-width="0.8" />
<line x1="486.1" y1="209.8" x2="489.1" y2="209.8" stroke="#333" stroke-width="1" />
<line x1="654.2" y1="367.0" x2="654.2" y2="370.0" stroke="#333" stroke-width="1" />
<text x="485.1" y="370.3" font-size="9.6" fill="#222" text-anchor="end" font-weight="normal" >0.0</text>
<text x="489.1" y="380.0" font-size="9.6" fill="#222" text-anchor="middle" font-weight="normal" >0.0</text>
<text x="485.1" y="291.7" font-size="9.6" fill="#222" text-anchor="end" font-weight="normal" >0.5</text>
<text x="571.6500000000001" y="380.0" font-size="9.6" fill="#222" text-anchor="middle" font-weight="normal" >0.5</text>
<text x="485.1" y="213.10000000000002" font-size="9.6" fill="#222" text-anchor="end" font-weight="normal" >1.0</text>
<text x="654.2" y="380.0" font-size="9.6" fill="#222" text-anchor="middle" font-weight="normal" >1.0</text>
<text transform="translate(472.3 276) rotate(-90)" font-size="13" text-anchor="middle"><tspan font-style="italic">k</tspan><tspan dy="3" font-size="8.5">1</tspan></text>
<text x="566.8500000000001" y="391.8" font-size="12.5"><tspan font-style="italic">k</tspan><tspan dy="2.8" font-size="8.5">3</tspan></text>
<line x1="653.20" y1="211.50" x2="652.89" y2="212.54" stroke="#2626f2" stroke-width="5" stroke-linecap="round"/>
<line x1="652.89" y1="212.54" x2="652.58" y2="213.58" stroke="#2626f2" stroke-width="5" stroke-linecap="round"/>
<line x1="652.58" y1="213.58" x2="652.27" y2="214.62" stroke="#2727f2" stroke-width="5" stroke-linecap="round"/>
<line x1="652.27" y1="214.62" x2="651.96" y2="215.67" stroke="#2727f2" stroke-width="5" stroke-linecap="round"/>
<line x1="651.96" y1="215.67" x2="651.65" y2="216.71" stroke="#2727f2" stroke-width="5" stroke-linecap="round"/>
<line x1="651.65" y1="216.71" x2="651.34" y2="217.75" stroke="#2828f2" stroke-width="5" stroke-linecap="round"/>
<line x1="651.34" y1="217.75" x2="651.03" y2="218.79" stroke="#2828f2" stroke-width="5" stroke-linecap="round"/>
<line x1="651.03" y1="218.79" x2="650.72" y2="219.83" stroke="#2929f2" stroke-width="5" stroke-linecap="round"/>
<line x1="650.72" y1="219.83" x2="650.42" y2="220.87" stroke="#2929f2" stroke-width="5" stroke-linecap="round"/>
<line x1="650.42" y1="220.87" x2="650.11" y2="221.91" stroke="#2929f2" stroke-width="5" stroke-linecap="round"/>
<line x1="650.11" y1="221.91" x2="649.80" y2="222.96" stroke="#2a2af2" stroke-width="5" stroke-linecap="round"/>
<line x1="649.80" y1="222.96" x2="649.50" y2="224.00" stroke="#2a2af2" stroke-width="5" stroke-linecap="round"/>
<line x1="649.50" y1="224.00" x2="649.19" y2="225.08" stroke="#2a2af2" stroke-width="5" stroke-linecap="round"/>
<line x1="649.19" y1="225.08" x2="648.90" y2="226.17" stroke="#2b2bf2" stroke-width="5" stroke-linecap="round"/>
<line x1="648.90" y1="226.17" x2="648.61" y2="227.27" stroke="#2b2bf2" stroke-width="5" stroke-linecap="round"/>
<line x1="648.61" y1="227.27" x2="648.33" y2="228.36" stroke="#2b2bf2" stroke-width="5" stroke-linecap="round"/>
<line x1="648.33" y1="228.36" x2="648.05" y2="229.45" stroke="#2c2cf2" stroke-width="5" stroke-linecap="round"/>
<line x1="648.05" y1="229.45" x2="647.77" y2="230.55" stroke="#2c2cf2" stroke-width="5" stroke-linecap="round"/>
<line x1="647.77" y1="230.55" x2="647.48" y2="231.64" stroke="#2d2df2" stroke-width="5" stroke-linecap="round"/>
<line x1="647.48" y1="231.64" x2="647.18" y2="232.72" stroke="#2d2df2" stroke-width="5" stroke-linecap="round"/>
<line x1="647.18" y1="232.72" x2="646.87" y2="233.80" stroke="#2d2df2" stroke-width="5" stroke-linecap="round"/>
<line x1="646.87" y1="233.80" x2="646.54" y2="234.88" stroke="#2e2ef2" stroke-width="5" stroke-linecap="round"/>
<line x1="646.54" y1="234.88" x2="646.18" y2="235.94" stroke="#2e2ef3" stroke-width="5" stroke-linecap="round"/>
<line x1="646.18" y1="235.94" x2="645.80" y2="237.00" stroke="#2e2ef3" stroke-width="5" stroke-linecap="round"/>
<line x1="645.80" y1="237.00" x2="645.35" y2="238.16" stroke="#2f2ff3" stroke-width="5" stroke-linecap="round"/>
<line x1="645.35" y1="238.16" x2="644.87" y2="239.31" stroke="#2f2ff3" stroke-width="5" stroke-linecap="round"/>
<line x1="644.87" y1="239.31" x2="644.38" y2="240.46" stroke="#3030f3" stroke-width="5" stroke-linecap="round"/>
<line x1="644.38" y1="240.46" x2="643.86" y2="241.59" stroke="#3030f3" stroke-width="5" stroke-linecap="round"/>
<line x1="643.86" y1="241.59" x2="643.33" y2="242.73" stroke="#3030f3" stroke-width="5" stroke-linecap="round"/>
<line x1="643.33" y1="242.73" x2="642.80" y2="243.86" stroke="#3131f3" stroke-width="5" stroke-linecap="round"/>
<line x1="642.80" y1="243.86" x2="642.25" y2="244.98" stroke="#3131f3" stroke-width="5" stroke-linecap="round"/>
<line x1="642.25" y1="244.98" x2="641.70" y2="246.10" stroke="#3131f3" stroke-width="5" stroke-linecap="round"/>
<line x1="641.70" y1="246.10" x2="641.14" y2="247.23" stroke="#3232f3" stroke-width="5" stroke-linecap="round"/>
<line x1="641.14" y1="247.23" x2="640.59" y2="248.35" stroke="#3232f3" stroke-width="5" stroke-linecap="round"/>
<line x1="640.59" y1="248.35" x2="640.04" y2="249.47" stroke="#3333f3" stroke-width="5" stroke-linecap="round"/>
<line x1="640.04" y1="249.47" x2="639.50" y2="250.60" stroke="#3333f3" stroke-width="5" stroke-linecap="round"/>
<line x1="639.50" y1="250.60" x2="638.98" y2="251.73" stroke="#3333f3" stroke-width="5" stroke-linecap="round"/>
<line x1="638.98" y1="251.73" x2="638.46" y2="252.86" stroke="#3434f3" stroke-width="5" stroke-linecap="round"/>
<line x1="638.46" y1="252.86" x2="637.96" y2="254.00" stroke="#3535f3" stroke-width="5" stroke-linecap="round"/>
<line x1="637.96" y1="254.00" x2="637.46" y2="255.14" stroke="#3636f3" stroke-width="5" stroke-linecap="round"/>
<line x1="637.46" y1="255.14" x2="636.96" y2="256.28" stroke="#3737f3" stroke-width="5" stroke-linecap="round"/>
<line x1="636.96" y1="256.28" x2="636.45" y2="257.42" stroke="#3838f3" stroke-width="5" stroke-linecap="round"/>
<line x1="636.45" y1="257.42" x2="635.93" y2="258.55" stroke="#3838f3" stroke-width="5" stroke-linecap="round"/>
<line x1="635.93" y1="258.55" x2="635.40" y2="259.67" stroke="#3939f3" stroke-width="5" stroke-linecap="round"/>
<line x1="635.40" y1="259.67" x2="634.84" y2="260.78" stroke="#3a3af3" stroke-width="5" stroke-linecap="round"/>
<line x1="634.84" y1="260.78" x2="634.26" y2="261.87" stroke="#3b3bf3" stroke-width="5" stroke-linecap="round"/>
<line x1="634.26" y1="261.87" x2="633.65" y2="262.95" stroke="#3c3cf3" stroke-width="5" stroke-linecap="round"/>
<line x1="633.65" y1="262.95" x2="633.00" y2="264.00" stroke="#3d3df3" stroke-width="5" stroke-linecap="round"/>
<line x1="633.00" y1="264.00" x2="632.04" y2="265.47" stroke="#3e3ef3" stroke-width="5" stroke-linecap="round"/>
<line x1="632.04" y1="265.47" x2="631.06" y2="266.93" stroke="#3f3ff3" stroke-width="5" stroke-linecap="round"/>
<line x1="631.06" y1="266.93" x2="630.06" y2="268.37" stroke="#4040f3" stroke-width="5" stroke-linecap="round"/>
<line x1="630.06" y1="268.37" x2="629.03" y2="269.81" stroke="#4141f3" stroke-width="5" stroke-linecap="round"/>
<line x1="629.03" y1="269.81" x2="627.99" y2="271.23" stroke="#4242f3" stroke-width="5" stroke-linecap="round"/>
<line x1="627.99" y1="271.23" x2="626.92" y2="272.64" stroke="#4343f3" stroke-width="5" stroke-linecap="round"/>
<line x1="626.92" y1="272.64" x2="625.84" y2="274.03" stroke="#4444f3" stroke-width="5" stroke-linecap="round"/>
<line x1="625.84" y1="274.03" x2="624.74" y2="275.41" stroke="#4646f4" stroke-width="5" stroke-linecap="round"/>
<line x1="624.74" y1="275.41" x2="623.62" y2="276.78" stroke="#4949f4" stroke-width="5" stroke-linecap="round"/>
<line x1="623.62" y1="276.78" x2="622.49" y2="278.13" stroke="#4d4df4" stroke-width="5" stroke-linecap="round"/>
<line x1="622.49" y1="278.13" x2="621.35" y2="279.47" stroke="#5050f4" stroke-width="5" stroke-linecap="round"/>
<line x1="621.35" y1="279.47" x2="620.20" y2="280.80" stroke="#5454f4" stroke-width="5" stroke-linecap="round"/>
<line x1="620.20" y1="280.80" x2="619.27" y2="281.85" stroke="#5757f4" stroke-width="5" stroke-linecap="round"/>
<line x1="619.27" y1="281.85" x2="618.31" y2="282.89" stroke="#5a5af4" stroke-width="5" stroke-linecap="round"/>
<line x1="618.31" y1="282.89" x2="617.35" y2="283.91" stroke="#5c5cf4" stroke-width="5" stroke-linecap="round"/>
<line x1="617.35" y1="283.91" x2="616.36" y2="284.93" stroke="#5f5ff5" stroke-width="5" stroke-linecap="round"/>
<line x1="616.36" y1="284.93" x2="615.36" y2="285.93" stroke="#6262f5" stroke-width="5" stroke-linecap="round"/>
<line x1="615.36" y1="285.93" x2="614.35" y2="286.91" stroke="#6464f5" stroke-width="5" stroke-linecap="round"/>
<line x1="614.35" y1="286.91" x2="613.32" y2="287.88" stroke="#6767f5" stroke-width="5" stroke-linecap="round"/>
<line x1="613.32" y1="287.88" x2="612.28" y2="288.84" stroke="#6969f5" stroke-width="5" stroke-linecap="round"/>
<line x1="612.28" y1="288.84" x2="611.23" y2="289.78" stroke="#6c6cf5" stroke-width="5" stroke-linecap="round"/>
<line x1="611.23" y1="289.78" x2="610.16" y2="290.70" stroke="#7070f5" stroke-width="5" stroke-linecap="round"/>
<line x1="610.16" y1="290.70" x2="609.09" y2="291.61" stroke="#7373f5" stroke-width="5" stroke-linecap="round"/>
<line x1="609.09" y1="291.61" x2="608.00" y2="292.50" stroke="#7777f6" stroke-width="5" stroke-linecap="round"/>
<line x1="608.00" y1="292.50" x2="607.02" y2="293.26" stroke="#7a7af6" stroke-width="5" stroke-linecap="round"/>
<line x1="607.02" y1="293.26" x2="606.02" y2="294.00" stroke="#7d7df6" stroke-width="5" stroke-linecap="round"/>
<line x1="606.02" y1="294.00" x2="605.00" y2="294.70" stroke="#8080f6" stroke-width="5" stroke-linecap="round"/>
<line x1="605.00" y1="294.70" x2="603.96" y2="295.39" stroke="#8383f6" stroke-width="5" stroke-linecap="round"/>
<line x1="603.96" y1="295.39" x2="602.91" y2="296.06" stroke="#8585f6" stroke-width="5" stroke-linecap="round"/>
<line x1="602.91" y1="296.06" x2="601.85" y2="296.72" stroke="#8888f6" stroke-width="5" stroke-linecap="round"/>
<line x1="601.85" y1="296.72" x2="600.79" y2="297.38" stroke="#8b8bf6" stroke-width="5" stroke-linecap="round"/>
<line x1="600.79" y1="297.38" x2="599.72" y2="298.03" stroke="#8d8df7" stroke-width="5" stroke-linecap="round"/>
<line x1="599.72" y1="298.03" x2="598.65" y2="298.68" stroke="#9090f7" stroke-width="5" stroke-linecap="round"/>
<line x1="598.65" y1="298.68" x2="597.59" y2="299.34" stroke="#9292f7" stroke-width="5" stroke-linecap="round"/>
<line x1="597.59" y1="299.34" x2="596.54" y2="300.01" stroke="#9494f7" stroke-width="5" stroke-linecap="round"/>
<line x1="596.54" y1="300.01" x2="595.50" y2="300.70" stroke="#9595f7" stroke-width="5" stroke-linecap="round"/>
<line x1="595.50" y1="300.70" x2="593.63" y2="301.97" stroke="#9797f7" stroke-width="5" stroke-linecap="round"/>
<line x1="593.63" y1="301.97" x2="591.76" y2="303.25" stroke="#9a9af7" stroke-width="5" stroke-linecap="round"/>
<line x1="591.76" y1="303.25" x2="589.90" y2="304.53" stroke="#9d9df7" stroke-width="5" stroke-linecap="round"/>
<line x1="589.90" y1="304.53" x2="588.05" y2="305.82" stroke="#9f9ff7" stroke-width="5" stroke-linecap="round"/>
<line x1="588.05" y1="305.82" x2="586.19" y2="307.11" stroke="#a2a2f7" stroke-width="5" stroke-linecap="round"/>
<line x1="586.19" y1="307.11" x2="584.34" y2="308.41" stroke="#a5a5f8" stroke-width="5" stroke-linecap="round"/>
<line x1="584.34" y1="308.41" x2="582.48" y2="309.69" stroke="#a8a8f8" stroke-width="5" stroke-linecap="round"/>
<line x1="582.48" y1="309.69" x2="580.62" y2="310.98" stroke="#aaaaf8" stroke-width="5" stroke-linecap="round"/>
<line x1="580.62" y1="310.98" x2="578.75" y2="312.25" stroke="#aeaef8" stroke-width="5" stroke-linecap="round"/>
<line x1="578.75" y1="312.25" x2="576.88" y2="313.52" stroke="#b1b1f8" stroke-width="5" stroke-linecap="round"/>
<line x1="576.88" y1="313.52" x2="574.99" y2="314.77" stroke="#b5b5f8" stroke-width="5" stroke-linecap="round"/>
<line x1="574.99" y1="314.77" x2="573.10" y2="316.00" stroke="#b8b8f8" stroke-width="5" stroke-linecap="round"/>
<line x1="573.10" y1="316.00" x2="570.79" y2="317.49" stroke="#bcbcf9" stroke-width="5" stroke-linecap="round"/>
<line x1="570.79" y1="317.49" x2="568.47" y2="318.96" stroke="#c0c0f9" stroke-width="5" stroke-linecap="round"/>
<line x1="568.47" y1="318.96" x2="566.14" y2="320.42" stroke="#c4c4f9" stroke-width="5" stroke-linecap="round"/>
<line x1="566.14" y1="320.42" x2="563.81" y2="321.88" stroke="#c8c8f9" stroke-width="5" stroke-linecap="round"/>
<line x1="563.81" y1="321.88" x2="561.47" y2="323.33" stroke="#ccccf9" stroke-width="5" stroke-linecap="round"/>
<line x1="561.47" y1="323.33" x2="559.12" y2="324.77" stroke="#d0d0f9" stroke-width="5" stroke-linecap="round"/>
<line x1="559.12" y1="324.77" x2="556.78" y2="326.20" stroke="#d3d3fa" stroke-width="5" stroke-linecap="round"/>
<line x1="556.78" y1="326.20" x2="554.43" y2="327.63" stroke="#d7d7fa" stroke-width="5" stroke-linecap="round"/>
<line x1="554.43" y1="327.63" x2="552.07" y2="329.05" stroke="#dadafa" stroke-width="5" stroke-linecap="round"/>
<line x1="552.07" y1="329.05" x2="549.72" y2="330.47" stroke="#dedefa" stroke-width="5" stroke-linecap="round"/>
<line x1="549.72" y1="330.47" x2="547.36" y2="331.89" stroke="#e1e1fa" stroke-width="5" stroke-linecap="round"/>
<line x1="547.36" y1="331.89" x2="545.00" y2="333.30" stroke="#e5e5fa" stroke-width="5" stroke-linecap="round"/>
<line x1="545.00" y1="333.30" x2="542.93" y2="334.53" stroke="#eaeafb" stroke-width="5" stroke-linecap="round"/>
<line x1="542.93" y1="334.53" x2="540.85" y2="335.75" stroke="#f0f0fb" stroke-width="5" stroke-linecap="round"/>
<line x1="540.85" y1="335.75" x2="538.77" y2="336.96" stroke="#f4f2f9" stroke-width="5" stroke-linecap="round"/>
<line x1="538.77" y1="336.96" x2="536.68" y2="338.16" stroke="#f4edf4" stroke-width="5" stroke-linecap="round"/>
<line x1="536.68" y1="338.16" x2="534.59" y2="339.35" stroke="#f4e7ef" stroke-width="5" stroke-linecap="round"/>
<line x1="534.59" y1="339.35" x2="532.50" y2="340.55" stroke="#f4e2e9" stroke-width="5" stroke-linecap="round"/>
<line x1="532.50" y1="340.55" x2="530.41" y2="341.74" stroke="#f4dce4" stroke-width="5" stroke-linecap="round"/>
<line x1="530.41" y1="341.74" x2="528.32" y2="342.94" stroke="#f3d6df" stroke-width="5" stroke-linecap="round"/>
<line x1="528.32" y1="342.94" x2="526.23" y2="344.14" stroke="#f3d0d8" stroke-width="5" stroke-linecap="round"/>
<line x1="526.23" y1="344.14" x2="524.15" y2="345.35" stroke="#f3c7d0" stroke-width="5" stroke-linecap="round"/>
<line x1="524.15" y1="345.35" x2="522.07" y2="346.57" stroke="#f3bfc8" stroke-width="5" stroke-linecap="round"/>
<line x1="522.07" y1="346.57" x2="520.00" y2="347.80" stroke="#f3b6c0" stroke-width="5" stroke-linecap="round"/>
<line x1="520.00" y1="347.80" x2="518.36" y2="348.79" stroke="#f3aeb8" stroke-width="5" stroke-linecap="round"/>
<line x1="518.36" y1="348.79" x2="516.72" y2="349.79" stroke="#f2a7b2" stroke-width="5" stroke-linecap="round"/>
<line x1="516.72" y1="349.79" x2="515.09" y2="350.80" stroke="#f2a1ab" stroke-width="5" stroke-linecap="round"/>
<line x1="515.09" y1="350.80" x2="513.47" y2="351.81" stroke="#f29aa5" stroke-width="5" stroke-linecap="round"/>
<line x1="513.47" y1="351.81" x2="511.84" y2="352.83" stroke="#f294a0" stroke-width="5" stroke-linecap="round"/>
<line x1="511.84" y1="352.83" x2="510.22" y2="353.85" stroke="#f28e9a" stroke-width="5" stroke-linecap="round"/>
<line x1="510.22" y1="353.85" x2="508.60" y2="354.88" stroke="#f28894" stroke-width="5" stroke-linecap="round"/>
<line x1="508.60" y1="354.88" x2="506.98" y2="355.91" stroke="#f2818e" stroke-width="5" stroke-linecap="round"/>
<line x1="506.98" y1="355.91" x2="505.36" y2="356.93" stroke="#f27b88" stroke-width="5" stroke-linecap="round"/>
<line x1="505.36" y1="356.93" x2="503.74" y2="357.96" stroke="#f17582" stroke-width="5" stroke-linecap="round"/>
<line x1="503.74" y1="357.96" x2="502.12" y2="358.98" stroke="#f16f7d" stroke-width="5" stroke-linecap="round"/>
<line x1="502.12" y1="358.98" x2="500.50" y2="360.00" stroke="#f16b79" stroke-width="5" stroke-linecap="round"/>
<path d="M489.8,366.3 L496.23,355.55 L502.32,365.89 Z" fill="#f1606e"/>
<path d="M653.4,205.6 L657.5,212.29999999999998 L649.3,212.29999999999998 Z" fill="#ffff00" stroke="#111" stroke-width="0.9" stroke-linejoin="miter"/>
<path d="M616.6,266.2 L620.7,272.90000000000003 L612.5,272.90000000000003 Z" fill="#ffff00" stroke="#111" stroke-width="0.9" stroke-linejoin="miter"/>
<path d="M601.5,303.59999999999997 L605.6,310.3 L597.4,310.3 Z" fill="#ffff00" stroke="#111" stroke-width="0.9" stroke-linejoin="miter"/>
<path d="M554.6,314.4 L558.7,321.1 L550.5,321.1 Z" fill="#ffff00" stroke="#111" stroke-width="0.9" stroke-linejoin="miter"/>
<path d="M488.5,363.9 L492.6,370.6 L484.4,370.6 Z" fill="#ffff00" stroke="#111" stroke-width="0.9" stroke-linejoin="miter"/>
<text x="633.9" y="220.2" font-size="10.5" font-weight="bold" fill="#ffff00" textLength="11.899999999999977" lengthAdjust="spacingAndGlyphs">0h</text>
<text x="601" y="263.5" font-size="10.5" font-weight="bold" fill="#ffff00" textLength="23.799999999999955" lengthAdjust="spacingAndGlyphs">A 1h</text>
<text x="591.2" y="322.7" font-size="10.5" font-weight="bold" fill="#ffff00" textLength="23.299999999999955" lengthAdjust="spacingAndGlyphs">B 3h</text>
<text x="544.5" y="310.3" font-size="10.5" font-weight="bold" fill="#ffff00" textLength="23.600000000000023" lengthAdjust="spacingAndGlyphs">C 6h</text>
<text x="492.8" y="362.0" font-size="10.5" font-weight="bold" fill="#ffff00" textLength="18.399999999999977" lengthAdjust="spacingAndGlyphs">12h</text>
<rect x="663.1" y="218.7" width="10.899999999999977" height="49.30000000000001" fill="url(#gvirv2)"/>
<text x="667.7" y="217.20000000000002" font-size="9.5" fill="#111" text-anchor="middle" font-weight="normal" >780</text>
<text x="667.7" y="278.29999999999995" font-size="9.5" fill="#111" text-anchor="middle" font-weight="normal" >600</text>
<text transform="translate(677.7 244.7) rotate(90)" font-size="9.5" text-anchor="middle" textLength="59.39999999999998" lengthAdjust="spacingAndGlyphs">Strength / MPa</text>
<rect x="662.9" y="310.2" width="11.0" height="51.0" fill="url(#gbwr)"/>
<text x="668.4" y="307.7" font-size="9.5" fill="#111" text-anchor="middle" font-weight="normal" >12</text>
<text x="668.4" y="371.4" font-size="9.5" fill="#111" text-anchor="middle" font-weight="normal" >0</text>
<text transform="translate(677.7 334.70000000000005) rotate(90)" font-size="9.5" text-anchor="middle" textLength="90.19999999999999" lengthAdjust="spacingAndGlyphs">Heat treatment time / h</text>
<rect x="488.6" y="427.4" width="164.60000000000002" height="158.10000000000002" fill="url(#hi)"/>
<g clip-path="url(#chi)"><line x1="488.6" y1="432.5" x2="653.2" y2="417.686" stroke="#1a1a1a" stroke-opacity="0.35" stroke-width="0.6" stroke-dasharray="2.5,0.6"/><line x1="488.6" y1="460.5" x2="653.2" y2="445.686" stroke="#1a1a1a" stroke-opacity="0.35" stroke-width="0.6" stroke-dasharray="2.5,0.6"/><line x1="488.6" y1="488.2" x2="653.2" y2="473.38599999999997" stroke="#1a1a1a" stroke-opacity="0.35" stroke-width="0.6" stroke-dasharray="2.5,0.6"/><line x1="488.6" y1="515.9" x2="653.2" y2="501.08599999999996" stroke="#1a1a1a" stroke-opacity="0.35" stroke-width="0.6" stroke-dasharray="2.5,0.6"/><line x1="488.6" y1="543.6" x2="653.2" y2="528.7860000000001" stroke="#1a1a1a" stroke-opacity="0.35" stroke-width="0.6" stroke-dasharray="2.5,0.6"/><line x1="488.6" y1="571.3" x2="653.2" y2="556.486" stroke="#1a1a1a" stroke-opacity="0.35" stroke-width="0.6" stroke-dasharray="2.5,0.6"/><line x1="488.6" y1="599" x2="653.2" y2="584.186" stroke="#1a1a1a" stroke-opacity="0.35" stroke-width="0.6" stroke-dasharray="2.5,0.6"/></g>
<rect x="488.6" y="427.4" width="164.60000000000002" height="158.10000000000002" fill="none" stroke="#222" stroke-width="1.2"/>
<line x1="485.6" y1="585.5" x2="488.6" y2="585.5" stroke="#333" stroke-width="1" />
<line x1="488.6" y1="585.5" x2="488.6" y2="588.5" stroke="#333" stroke-width="1" />
<line x1="486.8" y1="545.975" x2="488.6" y2="545.975" stroke="#333" stroke-width="0.8" />
<line x1="529.75" y1="585.5" x2="529.75" y2="587.3" stroke="#333" stroke-width="0.8" />
<line x1="485.6" y1="506.45" x2="488.6" y2="506.45" stroke="#333" stroke-width="1" />
<line x1="570.9000000000001" y1="585.5" x2="570.9000000000001" y2="588.5" stroke="#333" stroke-width="1" />
<line x1="486.8" y1="466.92499999999995" x2="488.6" y2="466.92499999999995" stroke="#333" stroke-width="0.8" />
<line x1="612.0500000000001" y1="585.5" x2="612.0500000000001" y2="587.3" stroke="#333" stroke-width="0.8" />
<line x1="485.6" y1="427.4" x2="488.6" y2="427.4" stroke="#333" stroke-width="1" />
<line x1="653.2" y1="585.5" x2="653.2" y2="588.5" stroke="#333" stroke-width="1" />
<text x="484.6" y="588.8" font-size="9.6" fill="#222" text-anchor="end" font-weight="normal" >0.0</text>
<text x="488.6" y="598.5" font-size="9.6" fill="#222" text-anchor="middle" font-weight="normal" >0.0</text>
<text x="484.6" y="509.75" font-size="9.6" fill="#222" text-anchor="end" font-weight="normal" >0.5</text>
<text x="570.9000000000001" y="598.5" font-size="9.6" fill="#222" text-anchor="middle" font-weight="normal" >0.5</text>
<text x="484.6" y="430.7" font-size="9.6" fill="#222" text-anchor="end" font-weight="normal" >1.0</text>
<text x="653.2" y="598.5" font-size="9.6" fill="#222" text-anchor="middle" font-weight="normal" >1.0</text>
<text transform="translate(471.8 494) rotate(-90)" font-size="13" text-anchor="middle"><tspan font-style="italic">k</tspan><tspan dy="3" font-size="8.5">1</tspan></text>
<text x="566.1000000000001" y="610.3" font-size="12.5"><tspan font-style="italic">k</tspan><tspan dy="2.8" font-size="8.5">3</tspan></text>
<line x1="653.00" y1="429.50" x2="652.59" y2="430.96" stroke="#2626f2" stroke-width="5" stroke-linecap="round"/>
<line x1="652.59" y1="430.96" x2="652.19" y2="432.42" stroke="#2727f2" stroke-width="5" stroke-linecap="round"/>
<line x1="652.19" y1="432.42" x2="651.80" y2="433.89" stroke="#2727f2" stroke-width="5" stroke-linecap="round"/>
<line x1="651.80" y1="433.89" x2="651.41" y2="435.36" stroke="#2828f2" stroke-width="5" stroke-linecap="round"/>
<line x1="651.41" y1="435.36" x2="651.02" y2="436.83" stroke="#2828f2" stroke-width="5" stroke-linecap="round"/>
<line x1="651.02" y1="436.83" x2="650.63" y2="438.29" stroke="#2929f2" stroke-width="5" stroke-linecap="round"/>
<line x1="650.63" y1="438.29" x2="650.23" y2="439.76" stroke="#2929f2" stroke-width="5" stroke-linecap="round"/>
<line x1="650.23" y1="439.76" x2="649.81" y2="441.22" stroke="#2a2af2" stroke-width="5" stroke-linecap="round"/>
<line x1="649.81" y1="441.22" x2="649.39" y2="442.67" stroke="#2a2af2" stroke-width="5" stroke-linecap="round"/>
<line x1="649.39" y1="442.67" x2="648.95" y2="444.12" stroke="#2b2bf2" stroke-width="5" stroke-linecap="round"/>
<line x1="648.95" y1="444.12" x2="648.49" y2="445.57" stroke="#2b2bf2" stroke-width="5" stroke-linecap="round"/>
<line x1="648.49" y1="445.57" x2="648.00" y2="447.00" stroke="#2c2cf2" stroke-width="5" stroke-linecap="round"/>
<line x1="648.00" y1="447.00" x2="647.44" y2="448.60" stroke="#2c2cf2" stroke-width="5" stroke-linecap="round"/>
<line x1="647.44" y1="448.60" x2="646.87" y2="450.19" stroke="#2d2df2" stroke-width="5" stroke-linecap="round"/>
<line x1="646.87" y1="450.19" x2="646.29" y2="451.79" stroke="#2d2df2" stroke-width="5" stroke-linecap="round"/>
<line x1="646.29" y1="451.79" x2="645.70" y2="453.38" stroke="#2e2ef3" stroke-width="5" stroke-linecap="round"/>
<line x1="645.70" y1="453.38" x2="645.10" y2="454.96" stroke="#2e2ef3" stroke-width="5" stroke-linecap="round"/>
<line x1="645.10" y1="454.96" x2="644.48" y2="456.54" stroke="#2f2ff3" stroke-width="5" stroke-linecap="round"/>
<line x1="644.48" y1="456.54" x2="643.84" y2="458.11" stroke="#2f2ff3" stroke-width="5" stroke-linecap="round"/>
<line x1="643.84" y1="458.11" x2="643.18" y2="459.68" stroke="#3030f3" stroke-width="5" stroke-linecap="round"/>
<line x1="643.18" y1="459.68" x2="642.50" y2="461.23" stroke="#3030f3" stroke-width="5" stroke-linecap="round"/>
<line x1="642.50" y1="461.23" x2="641.79" y2="462.77" stroke="#3131f3" stroke-width="5" stroke-linecap="round"/>
<line x1="641.79" y1="462.77" x2="641.06" y2="464.29" stroke="#3232f3" stroke-width="5" stroke-linecap="round"/>
<line x1="641.06" y1="464.29" x2="640.30" y2="465.80" stroke="#3232f3" stroke-width="5" stroke-linecap="round"/>
<line x1="640.30" y1="465.80" x2="639.05" y2="468.23" stroke="#3333f3" stroke-width="5" stroke-linecap="round"/>
<line x1="639.05" y1="468.23" x2="637.81" y2="470.66" stroke="#3434f3" stroke-width="5" stroke-linecap="round"/>
<line x1="637.81" y1="470.66" x2="636.55" y2="473.11" stroke="#3535f3" stroke-width="5" stroke-linecap="round"/>
<line x1="636.55" y1="473.11" x2="635.29" y2="475.55" stroke="#3737f3" stroke-width="5" stroke-linecap="round"/>
<line x1="635.29" y1="475.55" x2="634.00" y2="477.98" stroke="#3939f3" stroke-width="5" stroke-linecap="round"/>
<line x1="634.00" y1="477.98" x2="632.67" y2="480.39" stroke="#3b3bf3" stroke-width="5" stroke-linecap="round"/>
<line x1="632.67" y1="480.39" x2="631.32" y2="482.78" stroke="#3d3df3" stroke-width="5" stroke-linecap="round"/>
<line x1="631.32" y1="482.78" x2="629.91" y2="485.12" stroke="#3f3ff3" stroke-width="5" stroke-linecap="round"/>
<line x1="629.91" y1="485.12" x2="628.46" y2="487.43" stroke="#4040f3" stroke-width="5" stroke-linecap="round"/>
<line x1="628.46" y1="487.43" x2="626.94" y2="489.68" stroke="#4242f3" stroke-width="5" stroke-linecap="round"/>
<line x1="626.94" y1="489.68" x2="625.36" y2="491.87" stroke="#4444f3" stroke-width="5" stroke-linecap="round"/>
<line x1="625.36" y1="491.87" x2="623.70" y2="494.00" stroke="#4747f4" stroke-width="5" stroke-linecap="round"/>
<line x1="623.70" y1="494.00" x2="622.12" y2="495.85" stroke="#4c4cf4" stroke-width="5" stroke-linecap="round"/>
<line x1="622.12" y1="495.85" x2="620.46" y2="497.64" stroke="#5151f4" stroke-width="5" stroke-linecap="round"/>
<line x1="620.46" y1="497.64" x2="618.73" y2="499.38" stroke="#5555f4" stroke-width="5" stroke-linecap="round"/>
<line x1="618.73" y1="499.38" x2="616.94" y2="501.06" stroke="#5a5af4" stroke-width="5" stroke-linecap="round"/>
<line x1="616.94" y1="501.06" x2="615.09" y2="502.70" stroke="#5e5ef5" stroke-width="5" stroke-linecap="round"/>
<line x1="615.09" y1="502.70" x2="613.20" y2="504.30" stroke="#6262f5" stroke-width="5" stroke-linecap="round"/>
<line x1="613.20" y1="504.30" x2="611.28" y2="505.88" stroke="#6666f5" stroke-width="5" stroke-linecap="round"/>
<line x1="611.28" y1="505.88" x2="609.33" y2="507.42" stroke="#6b6bf5" stroke-width="5" stroke-linecap="round"/>
<line x1="609.33" y1="507.42" x2="607.37" y2="508.95" stroke="#7070f5" stroke-width="5" stroke-linecap="round"/>
<line x1="607.37" y1="508.95" x2="605.41" y2="510.47" stroke="#7676f6" stroke-width="5" stroke-linecap="round"/>
<line x1="605.41" y1="510.47" x2="603.45" y2="511.99" stroke="#7c7cf6" stroke-width="5" stroke-linecap="round"/>
<line x1="603.45" y1="511.99" x2="601.50" y2="513.50" stroke="#8282f6" stroke-width="5" stroke-linecap="round"/>
<line x1="601.50" y1="513.50" x2="598.80" y2="515.60" stroke="#8989f6" stroke-width="5" stroke-linecap="round"/>
<line x1="598.80" y1="515.60" x2="596.09" y2="517.68" stroke="#9292f7" stroke-width="5" stroke-linecap="round"/>
<line x1="596.09" y1="517.68" x2="593.36" y2="519.74" stroke="#9696f7" stroke-width="5" stroke-linecap="round"/>
<line x1="593.36" y1="519.74" x2="590.62" y2="521.79" stroke="#9b9bf7" stroke-width="5" stroke-linecap="round"/>
<line x1="590.62" y1="521.79" x2="587.86" y2="523.82" stroke="#9f9ff7" stroke-width="5" stroke-linecap="round"/>
<line x1="587.86" y1="523.82" x2="585.09" y2="525.83" stroke="#a3a3f8" stroke-width="5" stroke-linecap="round"/>
<line x1="585.09" y1="525.83" x2="582.30" y2="527.82" stroke="#a8a8f8" stroke-width="5" stroke-linecap="round"/>
<line x1="582.30" y1="527.82" x2="579.50" y2="529.79" stroke="#acacf8" stroke-width="5" stroke-linecap="round"/>
<line x1="579.50" y1="529.79" x2="576.69" y2="531.75" stroke="#b2b2f8" stroke-width="5" stroke-linecap="round"/>
<line x1="576.69" y1="531.75" x2="573.87" y2="533.68" stroke="#b7b7f8" stroke-width="5" stroke-linecap="round"/>
<line x1="573.87" y1="533.68" x2="571.04" y2="535.60" stroke="#bcbcf9" stroke-width="5" stroke-linecap="round"/>
<line x1="571.04" y1="535.60" x2="568.20" y2="537.50" stroke="#c2c2f9" stroke-width="5" stroke-linecap="round"/>
<line x1="568.20" y1="537.50" x2="565.95" y2="538.97" stroke="#c6c6f9" stroke-width="5" stroke-linecap="round"/>
<line x1="565.95" y1="538.97" x2="563.68" y2="540.40" stroke="#cacaf9" stroke-width="5" stroke-linecap="round"/>
<line x1="563.68" y1="540.40" x2="561.40" y2="541.81" stroke="#cecef9" stroke-width="5" stroke-linecap="round"/>
<line x1="561.40" y1="541.81" x2="559.10" y2="543.20" stroke="#d1d1fa" stroke-width="5" stroke-linecap="round"/>
<line x1="559.10" y1="543.20" x2="556.78" y2="544.56" stroke="#d5d5fa" stroke-width="5" stroke-linecap="round"/>
<line x1="556.78" y1="544.56" x2="554.46" y2="545.92" stroke="#d8d8fa" stroke-width="5" stroke-linecap="round"/>
<line x1="554.46" y1="545.92" x2="552.13" y2="547.26" stroke="#dbdbfa" stroke-width="5" stroke-linecap="round"/>
<line x1="552.13" y1="547.26" x2="549.80" y2="548.60" stroke="#dedefa" stroke-width="5" stroke-linecap="round"/>
<line x1="549.80" y1="548.60" x2="547.47" y2="549.94" stroke="#e2e2fa" stroke-width="5" stroke-linecap="round"/>
<line x1="547.47" y1="549.94" x2="545.14" y2="551.28" stroke="#e5e5fa" stroke-width="5" stroke-linecap="round"/>
<line x1="545.14" y1="551.28" x2="542.81" y2="552.63" stroke="#ebebfb" stroke-width="5" stroke-linecap="round"/>
<line x1="542.81" y1="552.63" x2="540.50" y2="554.00" stroke="#f2f2fb" stroke-width="5" stroke-linecap="round"/>
<line x1="540.50" y1="554.00" x2="538.18" y2="555.38" stroke="#f4f0f7" stroke-width="5" stroke-linecap="round"/>
<line x1="538.18" y1="555.38" x2="535.87" y2="556.75" stroke="#f4e9f1" stroke-width="5" stroke-linecap="round"/>
<line x1="535.87" y1="556.75" x2="533.55" y2="558.12" stroke="#f4e3eb" stroke-width="5" stroke-linecap="round"/>
<line x1="533.55" y1="558.12" x2="531.23" y2="559.50" stroke="#f4dde5" stroke-width="5" stroke-linecap="round"/>
<line x1="531.23" y1="559.50" x2="528.91" y2="560.87" stroke="#f3d6df" stroke-width="5" stroke-linecap="round"/>
<line x1="528.91" y1="560.87" x2="526.60" y2="562.24" stroke="#f3ced7" stroke-width="5" stroke-linecap="round"/>
<line x1="526.60" y1="562.24" x2="524.28" y2="563.62" stroke="#f3c4ce" stroke-width="5" stroke-linecap="round"/>
<line x1="524.28" y1="563.62" x2="521.96" y2="564.99" stroke="#f3bbc4" stroke-width="5" stroke-linecap="round"/>
<line x1="521.96" y1="564.99" x2="519.64" y2="566.36" stroke="#f3b1bb" stroke-width="5" stroke-linecap="round"/>
<line x1="519.64" y1="566.36" x2="517.33" y2="567.74" stroke="#f2a8b2" stroke-width="5" stroke-linecap="round"/>
<line x1="517.33" y1="567.74" x2="515.01" y2="569.12" stroke="#f29ea9" stroke-width="5" stroke-linecap="round"/>
<line x1="515.01" y1="569.12" x2="512.70" y2="570.50" stroke="#f296a1" stroke-width="5" stroke-linecap="round"/>
<line x1="512.70" y1="570.50" x2="511.60" y2="571.16" stroke="#f2909b" stroke-width="5" stroke-linecap="round"/>
<line x1="511.60" y1="571.16" x2="510.49" y2="571.82" stroke="#f28c98" stroke-width="5" stroke-linecap="round"/>
<line x1="510.49" y1="571.82" x2="509.39" y2="572.49" stroke="#f28894" stroke-width="5" stroke-linecap="round"/>
<line x1="509.39" y1="572.49" x2="508.29" y2="573.15" stroke="#f28490" stroke-width="5" stroke-linecap="round"/>
<line x1="508.29" y1="573.15" x2="507.19" y2="573.82" stroke="#f27f8c" stroke-width="5" stroke-linecap="round"/>
<line x1="507.19" y1="573.82" x2="506.09" y2="574.49" stroke="#f27b88" stroke-width="5" stroke-linecap="round"/>
<line x1="506.09" y1="574.49" x2="504.99" y2="575.16" stroke="#f17784" stroke-width="5" stroke-linecap="round"/>
<line x1="504.99" y1="575.16" x2="503.90" y2="575.83" stroke="#f17380" stroke-width="5" stroke-linecap="round"/>
<line x1="503.90" y1="575.83" x2="502.80" y2="576.50" stroke="#f1707d" stroke-width="5" stroke-linecap="round"/>
<line x1="502.80" y1="576.50" x2="501.70" y2="577.16" stroke="#f16d7a" stroke-width="5" stroke-linecap="round"/>
<line x1="501.70" y1="577.16" x2="500.60" y2="577.83" stroke="#f16a78" stroke-width="5" stroke-linecap="round"/>
<line x1="500.60" y1="577.83" x2="499.50" y2="578.50" stroke="#f16875" stroke-width="5" stroke-linecap="round"/>
<path d="M489,584.5 L495.57,573.83 L501.53,584.25 Z" fill="#f15e6c"/>
<path d="M653.1,423.29999999999995 L657.2,430.0 L649.0,430.0 Z" fill="#ffff00" stroke="#111" stroke-width="0.9" stroke-linejoin="miter"/>
<path d="M616.3,484.09999999999997 L620.4,490.8 L612.1999999999999,490.8 Z" fill="#ffff00" stroke="#111" stroke-width="0.9" stroke-linejoin="miter"/>
<path d="M601.3,520.4 L605.4,527.1 L597.1999999999999,527.1 Z" fill="#ffff00" stroke="#111" stroke-width="0.9" stroke-linejoin="miter"/>
<path d="M554.4,532.0 L558.5,538.7 L550.3,538.7 Z" fill="#ffff00" stroke="#111" stroke-width="0.9" stroke-linejoin="miter"/>
<path d="M488,581.4 L492.1,588.1 L483.9,588.1 Z" fill="#ffff00" stroke="#111" stroke-width="0.9" stroke-linejoin="miter"/>
<text x="632.4" y="437.59999999999997" font-size="10.5" font-weight="bold" fill="#ffff00" textLength="11.800000000000068" lengthAdjust="spacingAndGlyphs">0h</text>
<text x="600.9" y="480.5" font-size="10.5" font-weight="bold" fill="#ffff00" textLength="22.800000000000068" lengthAdjust="spacingAndGlyphs">A 1h</text>
<text x="590.3" y="538.7" font-size="10.5" font-weight="bold" fill="#ffff00" textLength="23.600000000000023" lengthAdjust="spacingAndGlyphs">B 3h</text>
<text x="543.4" y="528.2" font-size="10.5" font-weight="bold" fill="#ffff00" textLength="22.800000000000068" lengthAdjust="spacingAndGlyphs">C 6h</text>
<text x="491.8" y="579.3000000000001" font-size="10.5" font-weight="bold" fill="#ffff00" textLength="17.80000000000001" lengthAdjust="spacingAndGlyphs">12h</text>
<rect x="663.1" y="436.9" width="10.899999999999977" height="49.0" fill="url(#gvirv2)"/>
<text x="668.8" y="433.79999999999995" font-size="9.5" fill="#111" text-anchor="middle" font-weight="normal" >0.15</text>
<text x="668.8" y="497.4" font-size="9.5" fill="#111" text-anchor="middle" font-weight="normal" >0.09</text>
<text transform="translate(676.7 460.2) rotate(90)" font-size="9.5" text-anchor="middle" textLength="42.0" lengthAdjust="spacingAndGlyphs">Elongation</text>
<rect x="662.7" y="528" width="10.5" height="51.60000000000002" fill="url(#gbwr)"/>
<text x="667.95" y="525.9" font-size="9.5" fill="#111" text-anchor="middle" font-weight="normal" >12</text>
<text x="667.95" y="589.1" font-size="9.5" fill="#111" text-anchor="middle" font-weight="normal" >0</text>
<text transform="translate(676.7 552.0999999999999) rotate(90)" font-size="9.5" text-anchor="middle" textLength="89.39999999999998" lengthAdjust="spacingAndGlyphs">Heat treatment time / h</text>
<text x="29.4" y="424.4" font-size="11.2" fill="#000" text-anchor="start" font-weight="bold" textLength="170.8" lengthAdjust="spacingAndGlyphs" >Varying heat treatment durations</text>
<rect x="3.9" y="430.3" width="102.6" height="62.4" fill="url(#g1)"/>
<g clip-path="url(#cg1)"><g filter="url(#blur2)"><ellipse cx="26" cy="448.5" rx="5" ry="2.5" fill="#e0e31a" opacity="1"/><ellipse cx="73" cy="442" rx="4" ry="2" fill="#7ad151" opacity="0.9"/><ellipse cx="95" cy="441" rx="4.5" ry="2" fill="#7ad151" opacity="0.9"/><ellipse cx="80" cy="433" rx="4" ry="2" fill="#44bf70" opacity="0.6"/><ellipse cx="10" cy="433" rx="6" ry="3" fill="#2a9a88" opacity="0.6"/><ellipse cx="28" cy="438.5" rx="10" ry="2.5" fill="#3b1f70" opacity="0.7"/><ellipse cx="45" cy="437" rx="5" ry="2" fill="#3b1f70" opacity="0.7"/><ellipse cx="70" cy="455" rx="15" ry="4" fill="#3f2f7a" opacity="0.7"/><ellipse cx="100" cy="458" rx="8" ry="4" fill="#3f2a78" opacity="0.7"/><ellipse cx="85" cy="465" rx="14" ry="3" fill="#2f7b8d" opacity="0.6"/><ellipse cx="15" cy="474" rx="10" ry="3" fill="#bddf26" opacity="0.8"/><ellipse cx="55" cy="478" rx="12" ry="3" fill="#bddf26" opacity="0.8"/><ellipse cx="95" cy="477" rx="6" ry="2" fill="#a0da39" opacity="0.6"/><ellipse cx="40" cy="466" rx="8" ry="2.5" fill="#2a8a8a" opacity="0.5"/><ellipse cx="82" cy="483" rx="12" ry="3" fill="#2a7f8e" opacity="0.6"/><ellipse cx="40" cy="486" rx="6" ry="2" fill="#3aa882" opacity="0.5"/><ellipse cx="12" cy="491" rx="10" ry="2" fill="#40307a" opacity="0.6"/><ellipse cx="75" cy="491" rx="12" ry="2" fill="#3e3a80" opacity="0.5"/></g></g>
<line x1="3.9" y1="446.2" x2="106.5" y2="446.2" stroke="#ffffff" stroke-width="1.3" stroke-dasharray="1.4,1.1"/>
<line x1="3.9" y1="472.3" x2="106.5" y2="472.3" stroke="#ffffff" stroke-width="1.3" stroke-dasharray="1.4,1.1"/>
<rect x="111.9" y="430.3" width="101" height="62.4" fill="url(#g3)"/>
<g clip-path="url(#cg3)"><g filter="url(#blur2)"><ellipse cx="181" cy="447.5" rx="5" ry="2.2" fill="#f0e41a" opacity="1"/><ellipse cx="198" cy="447.5" rx="5" ry="2" fill="#6ccd5a" opacity="0.9"/><ellipse cx="157" cy="441" rx="4" ry="2" fill="#7ad151" opacity="0.8"/><ellipse cx="114" cy="472" rx="3" ry="3" fill="#7ad151" opacity="0.9"/><ellipse cx="192" cy="470" rx="6" ry="2" fill="#44bf70" opacity="0.6"/><ellipse cx="150" cy="432" rx="20" ry="3" fill="#432a7a" opacity="0.6"/><ellipse cx="200" cy="433" rx="10" ry="3" fill="#44287a" opacity="0.6"/><ellipse cx="140" cy="457" rx="18" ry="3" fill="#44287a" opacity="0.5"/><ellipse cx="200" cy="463" rx="10" ry="3" fill="#40307a" opacity="0.5"/><ellipse cx="130" cy="486" rx="10" ry="3" fill="#2f7b8d" opacity="0.4"/><ellipse cx="180" cy="488" rx="15" ry="3" fill="#40307a" opacity="0.4"/></g></g>
<line x1="111.9" y1="445.5" x2="212.9" y2="445.5" stroke="#ffffff" stroke-width="1.3" stroke-dasharray="1.4,1.1"/>
<line x1="111.9" y1="472.1" x2="212.9" y2="472.1" stroke="#ffffff" stroke-width="1.3" stroke-dasharray="1.4,1.1"/>
<rect x="3.9" y="508.3" width="102.1" height="62.7" fill="url(#g6)"/>
<g clip-path="url(#cg6)"><g filter="url(#blur2)"><ellipse cx="28" cy="518" rx="24" ry="4" fill="#2f6e8e" opacity="0.6"/><ellipse cx="60" cy="564" rx="32" ry="4" fill="#2c7a8e" opacity="0.5"/><ellipse cx="9" cy="520" rx="7" ry="4" fill="#2a8a8a" opacity="0.9"/><ellipse cx="85" cy="512" rx="18" ry="3" fill="#44287a" opacity="0.6"/><ellipse cx="95" cy="568" rx="10" ry="3" fill="#2f7b8d" opacity="0.7"/><ellipse cx="40" cy="569" rx="10" ry="2" fill="#40307a" opacity="0.5"/></g></g>
<line x1="3.9" y1="524.5" x2="106.0" y2="524.5" stroke="#ffffff" stroke-width="1.3" stroke-dasharray="1.4,1.1"/>
<line x1="3.9" y1="558.2" x2="106.0" y2="558.2" stroke="#ffffff" stroke-width="1.3" stroke-dasharray="1.4,1.1"/>
<rect x="111.9" y="508.3" width="101.1" height="62.7" fill="url(#g12)"/>
<g clip-path="url(#cg12)"><g filter="url(#blur2)"><ellipse cx="120" cy="522" rx="8" ry="3" fill="#2f7b8d" opacity="0.8"/><ellipse cx="121" cy="514" rx="6" ry="3" fill="#3b1f70" opacity="0.6"/><ellipse cx="118" cy="567" rx="6" ry="3" fill="#2f6e8e" opacity="0.6"/></g></g>
<line x1="111.9" y1="524.5" x2="213.0" y2="524.5" stroke="#ffffff" stroke-width="1.3" stroke-dasharray="1.4,1.1"/>
<line x1="111.9" y1="557.6" x2="213.0" y2="557.6" stroke="#ffffff" stroke-width="1.3" stroke-dasharray="1.4,1.1"/>
<text x="148.2" y="520" font-size="10.3" fill="#ffffff" text-anchor="start" font-weight="normal" textLength="62.2" lengthAdjust="spacingAndGlyphs" >Inter-dendrites</text>
<text x="54.5" y="502.8" font-size="10.5" fill="#000" text-anchor="middle" font-weight="bold" >1h</text>
<text x="161.2" y="502.8" font-size="10.5" fill="#000" text-anchor="middle" font-weight="bold" >3h</text>
<text x="54.5" y="581.5" font-size="10.5" fill="#000" text-anchor="middle" font-weight="bold" >6h</text>
<text x="161.2" y="582.0999999999999" font-size="10.5" fill="#000" text-anchor="middle" font-weight="bold" >12h</text>
<rect x="73.9" y="584.9" width="60.6" height="10.5" fill="url(#gvir)"/>
<text x="67.8" y="594" font-size="10.5" fill="#000" text-anchor="middle" font-weight="normal" >0</text>
<text x="136.6" y="593.2" font-size="10.3" fill="#000" text-anchor="start" font-weight="normal" >0.6</text>
<text x="72.6" y="606.2" font-size="10.5" fill="#000" text-anchor="start" font-weight="normal" textLength="66.5" lengthAdjust="spacingAndGlyphs" >GROD in Exp. / °</text>
<rect x="187.3" y="586.3" width="19.5" height="3.7" fill="#000"/>
<text x="184.3" y="601.3" font-size="10.8" fill="#000" text-anchor="start" font-weight="normal" textLength="25" lengthAdjust="spacingAndGlyphs" >5 μm</text>
</svg></body></html>
